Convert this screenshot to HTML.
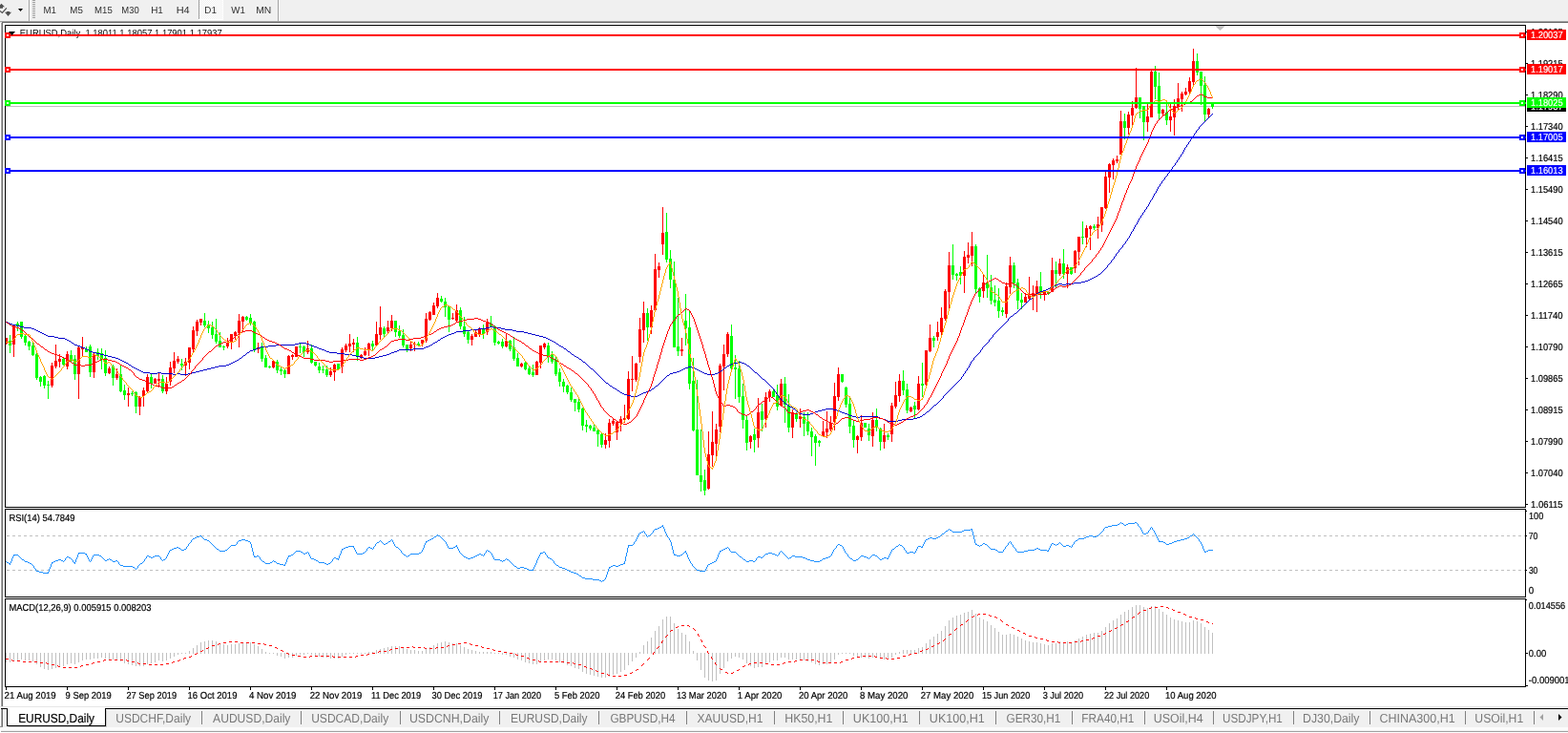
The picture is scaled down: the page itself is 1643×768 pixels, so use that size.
<!DOCTYPE html>
<html lang="en">
<head>
<meta charset="utf-8">
<title>EURUSD,Daily</title>
<style>
html,body{margin:0;padding:0;background:#fff;overflow:hidden}
body{width:1643px;height:768px;font-family:"Liberation Sans", sans-serif}
svg{display:block;position:absolute;left:0;top:0}
text{font-family:"Liberation Sans", sans-serif;white-space:pre}
</style>
</head>
<body>
<svg width="1643" height="768" viewBox="0 0 1643 768" text-rendering="geometricPrecision">
<rect x="0" y="0" width="1643" height="768" fill="#fff"/>
<rect x="0" y="0" width="1643" height="22" fill="#f0f0f0"/>
<rect x="0" y="22" width="1643" height="1" fill="#a0a0a0"/>
<rect x="2" y="23" width="1643" height="1" fill="#696969"/>
<rect x="0" y="23" width="2" height="1" fill="#e3e3e3"/>
<rect x="0" y="24" width="1" height="737" fill="#fff"/>
<rect x="1" y="24" width="1" height="717" fill="#a8a8a8"/>
<rect x="2" y="24" width="1" height="717" fill="#6e6e6e"/>
<g fill="#505050"><path d="M1.5 3.7 L5 7.2 L3 7.2 L3 8.7 L0 8.7 L0 5.2 Z"/><path d="M5 12.8 L12 12.8 L8.5 17 Z"/><path d="M7 12 h3 v1 h-3 z"/></g><path d="M0 11.6 L2.4 13.4 L6.9 8.4" fill="none" stroke="#505050" stroke-width="1.2"/>
<path d="M19 9 h5 l-2.5 3 z" fill="#000"/>
<rect x="30" y="0" width="1" height="22" fill="#a0a0a0"/>
<rect x="31" y="0" width="1" height="22" fill="#fff"/>
<rect x="34" y="0" width="3" height="1" fill="#a0a0a0"/>
<rect x="34" y="2" width="3" height="1" fill="#a0a0a0"/>
<rect x="34" y="4" width="3" height="1" fill="#a0a0a0"/>
<rect x="34" y="6" width="3" height="1" fill="#a0a0a0"/>
<rect x="34" y="8" width="3" height="1" fill="#a0a0a0"/>
<rect x="34" y="10" width="3" height="1" fill="#a0a0a0"/>
<rect x="34" y="12" width="3" height="1" fill="#a0a0a0"/>
<rect x="34" y="14" width="3" height="1" fill="#a0a0a0"/>
<rect x="34" y="16" width="3" height="1" fill="#a0a0a0"/>
<rect x="34" y="18" width="3" height="1" fill="#a0a0a0"/>
<defs><pattern id="dz" width="2" height="2" patternUnits="userSpaceOnUse"><rect width="2" height="2" fill="#f0f0f0"/><rect width="1" height="1" fill="#fff"/><rect x="1" y="1" width="1" height="1" fill="#fff"/></pattern></defs>
<rect x="208" y="0" width="1" height="20" fill="#a0a0a0"/>
<rect x="209" y="0" width="24" height="20" fill="url(#dz)" shape-rendering="crispEdges"/>
<rect x="208" y="20" width="26" height="1" fill="#fff"/>
<rect x="233" y="0" width="1" height="20" fill="#fff"/>
<rect x="291" y="0" width="1" height="22" fill="#a0a0a0"/>
<rect x="292" y="0" width="1" height="22" fill="#fff"/>
<text x="45.40" y="14" font-size="10.18" fill="#303030" textLength="13.47" lengthAdjust="spacingAndGlyphs">M1</text>
<text x="73.30" y="14" font-size="10.18" fill="#303030" textLength="13.51" lengthAdjust="spacingAndGlyphs">M5</text>
<text x="99.11" y="14" font-size="10.18" fill="#303030" textLength="18.69" lengthAdjust="spacingAndGlyphs">M15</text>
<text x="127.32" y="14" font-size="10.18" fill="#303030" textLength="18.45" lengthAdjust="spacingAndGlyphs">M30</text>
<text x="158.19" y="14" font-size="10.18" fill="#303030" textLength="12.70" lengthAdjust="spacingAndGlyphs">H1</text>
<text x="184.70" y="14" font-size="10.18" fill="#303030" textLength="14.02" lengthAdjust="spacingAndGlyphs">H4</text>
<text x="214.29" y="14" font-size="10.18" fill="#303030" textLength="12.59" lengthAdjust="spacingAndGlyphs">D1</text>
<text x="242.36" y="14" font-size="10.18" fill="#303030" textLength="14.52" lengthAdjust="spacingAndGlyphs">W1</text>
<text x="268.15" y="14" font-size="10.18" fill="#303030" textLength="16.09" lengthAdjust="spacingAndGlyphs">MN</text>
<rect x="5.5" y="26.5" width="1593" height="505" fill="#fff" stroke="#000" stroke-width="1" shape-rendering="crispEdges"/>
<rect x="5.5" y="533.5" width="1593" height="92" fill="#fff" stroke="#000" stroke-width="1" shape-rendering="crispEdges"/>
<rect x="5.5" y="627.5" width="1593" height="92" fill="#fff" stroke="#000" stroke-width="1" shape-rendering="crispEdges"/>
<rect x="1599" y="33" width="2" height="1" fill="#000"/>
<text x="1603.99" y="37" font-size="10.18" fill="#000" stroke="#000" stroke-width="0.2" textLength="33.60" lengthAdjust="spacingAndGlyphs">1.20165</text>
<rect x="1599" y="66" width="2" height="1" fill="#000"/>
<text x="1603.99" y="70" font-size="10.18" fill="#000" stroke="#000" stroke-width="0.2" textLength="33.60" lengthAdjust="spacingAndGlyphs">1.19215</text>
<rect x="1599" y="99" width="2" height="1" fill="#000"/>
<text x="1603.99" y="103" font-size="10.18" fill="#000" stroke="#000" stroke-width="0.2" textLength="33.57" lengthAdjust="spacingAndGlyphs">1.18290</text>
<rect x="1599" y="132" width="2" height="1" fill="#000"/>
<text x="1603.99" y="136" font-size="10.18" fill="#000" stroke="#000" stroke-width="0.2" textLength="33.57" lengthAdjust="spacingAndGlyphs">1.17340</text>
<rect x="1599" y="165" width="2" height="1" fill="#000"/>
<text x="1603.99" y="169" font-size="10.18" fill="#000" stroke="#000" stroke-width="0.2" textLength="33.60" lengthAdjust="spacingAndGlyphs">1.16415</text>
<rect x="1599" y="198" width="2" height="1" fill="#000"/>
<text x="1603.99" y="202" font-size="10.18" fill="#000" stroke="#000" stroke-width="0.2" textLength="33.57" lengthAdjust="spacingAndGlyphs">1.15490</text>
<rect x="1599" y="231" width="2" height="1" fill="#000"/>
<text x="1603.99" y="235" font-size="10.18" fill="#000" stroke="#000" stroke-width="0.2" textLength="33.57" lengthAdjust="spacingAndGlyphs">1.14540</text>
<rect x="1599" y="264" width="2" height="1" fill="#000"/>
<text x="1603.99" y="268" font-size="10.18" fill="#000" stroke="#000" stroke-width="0.2" textLength="33.60" lengthAdjust="spacingAndGlyphs">1.13615</text>
<rect x="1599" y="297" width="2" height="1" fill="#000"/>
<text x="1603.99" y="301" font-size="10.18" fill="#000" stroke="#000" stroke-width="0.2" textLength="33.60" lengthAdjust="spacingAndGlyphs">1.12665</text>
<rect x="1599" y="330" width="2" height="1" fill="#000"/>
<text x="1603.99" y="334" font-size="10.18" fill="#000" stroke="#000" stroke-width="0.2" textLength="33.57" lengthAdjust="spacingAndGlyphs">1.11740</text>
<rect x="1599" y="363" width="2" height="1" fill="#000"/>
<text x="1603.99" y="367" font-size="10.18" fill="#000" stroke="#000" stroke-width="0.2" textLength="33.57" lengthAdjust="spacingAndGlyphs">1.10790</text>
<rect x="1599" y="396" width="2" height="1" fill="#000"/>
<text x="1603.99" y="400" font-size="10.18" fill="#000" stroke="#000" stroke-width="0.2" textLength="33.60" lengthAdjust="spacingAndGlyphs">1.09865</text>
<rect x="1599" y="429" width="2" height="1" fill="#000"/>
<text x="1603.99" y="433" font-size="10.18" fill="#000" stroke="#000" stroke-width="0.2" textLength="33.60" lengthAdjust="spacingAndGlyphs">1.08915</text>
<rect x="1599" y="462" width="2" height="1" fill="#000"/>
<text x="1603.99" y="466" font-size="10.18" fill="#000" stroke="#000" stroke-width="0.2" textLength="33.57" lengthAdjust="spacingAndGlyphs">1.07990</text>
<rect x="1599" y="495" width="2" height="1" fill="#000"/>
<text x="1603.99" y="499" font-size="10.18" fill="#000" stroke="#000" stroke-width="0.2" textLength="33.57" lengthAdjust="spacingAndGlyphs">1.07040</text>
<rect x="1599" y="528" width="2" height="1" fill="#000"/>
<text x="1603.99" y="532" font-size="10.18" fill="#000" stroke="#000" stroke-width="0.2" textLength="33.60" lengthAdjust="spacingAndGlyphs">1.06115</text>
<text x="1602.00" y="544" font-size="10.18" fill="#000" stroke="#000" stroke-width="0.2" textLength="15.25" lengthAdjust="spacingAndGlyphs">100</text>
<text x="1601.76" y="565" font-size="10.18" fill="#000" stroke="#000" stroke-width="0.2" textLength="9.58" lengthAdjust="spacingAndGlyphs">70</text>
<text x="1601.88" y="601" font-size="10.18" fill="#000" stroke="#000" stroke-width="0.2" textLength="9.46" lengthAdjust="spacingAndGlyphs">30</text>
<text x="1601.82" y="622" font-size="10.18" fill="#000" stroke="#000" stroke-width="0.2" textLength="5.47" lengthAdjust="spacingAndGlyphs">0</text>
<rect x="1599" y="535" width="1" height="1" fill="#000"/>
<path d="M7 561.5 H1598" stroke="#c0c0c0" stroke-width="1" stroke-dasharray="3 3" shape-rendering="crispEdges"/>
<rect x="1599" y="561" width="1" height="1" fill="#000"/>
<path d="M7 597.5 H1598" stroke="#c0c0c0" stroke-width="1" stroke-dasharray="3 3" shape-rendering="crispEdges"/>
<rect x="1599" y="597" width="1" height="1" fill="#000"/>
<text x="1601.84" y="638" font-size="10.18" fill="#000" stroke="#000" stroke-width="0.2" textLength="38.36" lengthAdjust="spacingAndGlyphs">0.014556</text>
<text x="1601.83" y="688" font-size="10.18" fill="#000" stroke="#000" stroke-width="0.2" textLength="18.44" lengthAdjust="spacingAndGlyphs">0.00</text>
<text x="1601.78" y="716" font-size="10.18" fill="#000" stroke="#000" stroke-width="0.2" textLength="42.89" lengthAdjust="spacingAndGlyphs">-0.009001</text>
<rect x="1599" y="684" width="2" height="1" fill="#000"/>
<rect x="1599" y="718" width="2" height="1" fill="#000"/>
<rect x="1599" y="628" width="1" height="1" fill="#000"/>
<rect x="6" y="720" width="1" height="3" fill="#000"/>
<text x="4.62" y="732" font-size="10.18" fill="#000" stroke="#000" stroke-width="0.2" textLength="54.13" lengthAdjust="spacingAndGlyphs">21 Aug 2019</text>
<rect x="70" y="720" width="1" height="3" fill="#000"/>
<text x="68.56" y="732" font-size="10.18" fill="#000" stroke="#000" stroke-width="0.2" textLength="48.19" lengthAdjust="spacingAndGlyphs">9 Sep 2019</text>
<rect x="134" y="720" width="1" height="3" fill="#000"/>
<text x="132.43" y="732" font-size="10.18" fill="#000" stroke="#000" stroke-width="0.2" textLength="52.81" lengthAdjust="spacingAndGlyphs">27 Sep 2019</text>
<rect x="198" y="720" width="1" height="3" fill="#000"/>
<text x="196.57" y="732" font-size="10.18" fill="#000" stroke="#000" stroke-width="0.2" textLength="51.88" lengthAdjust="spacingAndGlyphs">16 Oct 2019</text>
<rect x="262" y="720" width="1" height="3" fill="#000"/>
<text x="260.98" y="732" font-size="10.18" fill="#000" stroke="#000" stroke-width="0.2" textLength="49.48" lengthAdjust="spacingAndGlyphs">4 Nov 2019</text>
<rect x="326" y="720" width="1" height="3" fill="#000"/>
<text x="324.72" y="732" font-size="10.18" fill="#000" stroke="#000" stroke-width="0.2" textLength="54.54" lengthAdjust="spacingAndGlyphs">22 Nov 2019</text>
<rect x="390" y="720" width="1" height="3" fill="#000"/>
<text x="389.10" y="732" font-size="10.18" fill="#000" stroke="#000" stroke-width="0.2" textLength="52.03" lengthAdjust="spacingAndGlyphs">11 Dec 2019</text>
<rect x="454" y="720" width="1" height="3" fill="#000"/>
<text x="452.54" y="732" font-size="10.18" fill="#000" stroke="#000" stroke-width="0.2" textLength="53.00" lengthAdjust="spacingAndGlyphs">30 Dec 2019</text>
<rect x="518" y="720" width="1" height="3" fill="#000"/>
<text x="516.70" y="732" font-size="10.18" fill="#000" stroke="#000" stroke-width="0.2" textLength="50.35" lengthAdjust="spacingAndGlyphs">17 Jan 2020</text>
<rect x="582" y="720" width="1" height="3" fill="#000"/>
<text x="580.92" y="732" font-size="10.18" fill="#000" stroke="#000" stroke-width="0.2" textLength="47.44" lengthAdjust="spacingAndGlyphs">5 Feb 2020</text>
<rect x="646" y="720" width="1" height="3" fill="#000"/>
<text x="644.73" y="732" font-size="10.18" fill="#000" stroke="#000" stroke-width="0.2" textLength="52.43" lengthAdjust="spacingAndGlyphs">24 Feb 2020</text>
<rect x="710" y="720" width="1" height="3" fill="#000"/>
<text x="708.89" y="732" font-size="10.18" fill="#000" stroke="#000" stroke-width="0.2" textLength="52.48" lengthAdjust="spacingAndGlyphs">13 Mar 2020</text>
<rect x="774" y="720" width="1" height="3" fill="#000"/>
<text x="772.77" y="732" font-size="10.18" fill="#000" stroke="#000" stroke-width="0.2" textLength="46.60" lengthAdjust="spacingAndGlyphs">1 Apr 2020</text>
<rect x="838" y="720" width="1" height="3" fill="#000"/>
<text x="836.93" y="732" font-size="10.18" fill="#000" stroke="#000" stroke-width="0.2" textLength="51.44" lengthAdjust="spacingAndGlyphs">20 Apr 2020</text>
<rect x="902" y="720" width="1" height="3" fill="#000"/>
<text x="900.88" y="732" font-size="10.18" fill="#000" stroke="#000" stroke-width="0.2" textLength="50.60" lengthAdjust="spacingAndGlyphs">8 May 2020</text>
<rect x="966" y="720" width="1" height="3" fill="#000"/>
<text x="964.72" y="732" font-size="10.18" fill="#000" stroke="#000" stroke-width="0.2" textLength="55.56" lengthAdjust="spacingAndGlyphs">27 May 2020</text>
<rect x="1030" y="720" width="1" height="3" fill="#000"/>
<text x="1028.90" y="732" font-size="10.18" fill="#000" stroke="#000" stroke-width="0.2" textLength="50.35" lengthAdjust="spacingAndGlyphs">15 Jun 2020</text>
<rect x="1094" y="720" width="1" height="3" fill="#000"/>
<text x="1092.65" y="732" font-size="10.18" fill="#000" stroke="#000" stroke-width="0.2" textLength="42.61" lengthAdjust="spacingAndGlyphs">3 Jul 2020</text>
<rect x="1158" y="720" width="1" height="3" fill="#000"/>
<text x="1156.94" y="732" font-size="10.18" fill="#000" stroke="#000" stroke-width="0.2" textLength="47.32" lengthAdjust="spacingAndGlyphs">22 Jul 2020</text>
<rect x="1222" y="720" width="1" height="3" fill="#000"/>
<text x="1221.08" y="732" font-size="10.18" fill="#000" stroke="#000" stroke-width="0.2" textLength="53.38" lengthAdjust="spacingAndGlyphs">10 Aug 2020</text>
<rect x="6" y="111" width="1592" height="1" fill="#c0c0c0"/>
<path fill="#ff0000" shape-rendering="crispEdges" d="M6 354h1v7h-1zM6 354h2v6h-2zM14 340h1v34h-1zM13 340h3v21h-3zM54 380h1v26h-1zM53 383h3v21h-3zM58 361h1v25h-1zM57 378h3v6h-3zM62 371h1v14h-1zM61 376h3v3h-3zM70 368h1v19h-1zM69 371h3v13h-3zM82 363h1v55h-1zM81 364h3v28h-3zM86 353h1v20h-1zM85 364h3v2h-3zM98 370h1v26h-1zM97 371h3v19h-3zM114 384h1v8h-1zM113 386h3v5h-3zM122 386h1v12h-1zM121 392h3v4h-3zM134 406h1v20h-1zM133 412h3v2h-3zM146 415h1v20h-1zM145 416h3v10h-3zM150 406h1v20h-1zM149 409h3v6h-3zM154 392h1v19h-1zM153 395h3v15h-3zM162 396h1v6h-1zM161 397h3v5h-3zM166 391h1v15h-1zM165 397h3v2h-3zM174 395h1v18h-1zM173 402h3v8h-3zM178 379h1v25h-1zM177 385h3v15h-3zM182 369h1v22h-1zM181 378h3v8h-3zM186 373h1v8h-1zM185 376h3v3h-3zM194 375h1v19h-1zM193 379h3v4h-3zM198 364h1v23h-1zM197 364h3v16h-3zM202 342h1v27h-1zM201 346h3v20h-3zM206 335h1v17h-1zM205 337h3v10h-3zM210 334h1v7h-1zM209 334h3v4h-3zM238 354h1v11h-1zM237 359h3v4h-3zM242 350h1v16h-1zM241 350h3v8h-3zM246 347h1v9h-1zM245 348h3v4h-3zM250 329h1v35h-1zM249 336h3v13h-3zM254 331h1v17h-1zM253 332h3v5h-3zM270 359h1v11h-1zM269 364h3v2h-3zM286 377h1v9h-1zM285 378h3v7h-3zM302 372h1v20h-1zM301 373h3v19h-3zM306 371h1v6h-1zM305 372h3v2h-3zM310 363h1v11h-1zM309 363h3v11h-3zM322 357h1v14h-1zM321 365h3v4h-3zM346 385h1v10h-1zM345 389h3v4h-3zM350 381h1v18h-1zM349 382h3v8h-3zM358 364h1v27h-1zM357 366h3v18h-3zM362 360h1v9h-1zM361 362h3v5h-3zM366 350h1v19h-1zM365 360h3v3h-3zM370 355h1v14h-1zM369 359h3v2h-3zM378 371h1v5h-1zM377 372h3v3h-3zM382 364h1v9h-1zM381 368h3v4h-3zM386 359h1v14h-1zM385 360h3v6h-3zM394 337h1v26h-1zM393 350h3v12h-3zM398 321h1v35h-1zM397 343h3v8h-3zM406 336h1v13h-1zM405 343h3v4h-3zM410 330h1v17h-1zM409 336h3v8h-3zM430 358h1v10h-1zM429 361h3v4h-3zM434 358h1v10h-1zM433 360h3v1h-3zM442 356h1v7h-1zM441 356h3v4h-3zM446 328h1v31h-1zM445 334h3v23h-3zM450 326h1v10h-1zM449 327h3v8h-3zM454 317h1v13h-1zM453 320h3v10h-3zM458 307h1v16h-1zM457 312h3v9h-3zM474 328h1v7h-1zM473 333h3v1h-3zM478 319h1v18h-1zM477 325h3v11h-3zM494 350h1v12h-1zM493 352h3v4h-3zM498 346h1v7h-1zM497 348h3v5h-3zM502 343h1v10h-1zM501 345h3v6h-3zM510 334h1v17h-1zM509 337h3v11h-3zM530 350h1v14h-1zM529 357h3v6h-3zM546 380h1v5h-1zM545 381h3v3h-3zM562 378h1v15h-1zM561 379h3v14h-3zM566 362h1v24h-1zM565 362h3v18h-3zM570 359h1v7h-1zM569 360h3v4h-3zM634 454h1v16h-1zM633 461h3v5h-3zM638 439h1v30h-1zM637 443h3v19h-3zM642 438h1v8h-1zM641 441h3v3h-3zM646 441h1v20h-1zM645 442h3v11h-3zM650 436h1v16h-1zM649 439h3v4h-3zM654 424h1v19h-1zM653 438h3v2h-3zM658 389h1v51h-1zM657 397h3v42h-3zM662 373h1v37h-1zM661 397h3v1h-3zM666 380h1v20h-1zM665 381h3v17h-3zM670 333h1v47h-1zM669 345h3v29h-3zM674 316h1v43h-1zM673 328h3v18h-3zM682 320h1v30h-1zM681 325h3v18h-3zM686 266h1v60h-1zM685 282h3v43h-3zM690 275h1v16h-1zM689 279h3v4h-3zM694 217h1v50h-1zM693 244h3v12h-3zM714 354h1v19h-1zM713 366h3v2h-3zM742 452h1v61h-1zM741 476h3v36h-3zM746 431h1v58h-1zM745 463h3v14h-3zM750 444h1v34h-1zM749 450h3v15h-3zM754 381h1v72h-1zM753 383h3v64h-3zM758 361h1v48h-1zM757 371h3v13h-3zM762 348h1v26h-1zM761 350h3v21h-3zM786 456h1v14h-1zM785 457h3v6h-3zM794 417h1v52h-1zM793 432h3v27h-3zM802 411h1v37h-1zM801 416h3v23h-3zM806 408h1v13h-1zM805 410h3v6h-3zM818 397h1v29h-1zM817 402h3v23h-3zM830 429h1v30h-1zM829 432h3v16h-3zM838 428h1v20h-1zM837 436h3v3h-3zM862 441h1v16h-1zM861 452h3v5h-3zM866 431h1v28h-1zM865 449h3v4h-3zM870 436h1v16h-1zM869 443h3v7h-3zM874 401h1v50h-1zM873 415h3v27h-3zM878 385h1v35h-1zM877 392h3v24h-3zM898 456h1v19h-1zM897 457h3v4h-3zM902 435h1v27h-1zM901 443h3v15h-3zM914 432h1v36h-1zM913 440h3v17h-3zM926 444h1v26h-1zM925 456h3v7h-3zM934 422h1v41h-1zM933 425h3v30h-3zM938 400h1v28h-1zM937 414h3v12h-3zM942 392h1v29h-1zM941 399h3v16h-3zM954 426h1v6h-1zM953 427h3v4h-3zM962 394h1v36h-1zM961 402h3v27h-3zM970 367h1v37h-1zM969 367h3v36h-3zM974 340h1v29h-1zM973 354h3v14h-3zM982 337h1v20h-1zM981 348h3v5h-3zM986 322h1v29h-1zM985 333h3v15h-3zM990 303h1v33h-1zM989 305h3v29h-3zM994 264h1v59h-1zM993 278h3v28h-3zM1010 263h1v44h-1zM1009 269h3v20h-3zM1014 254h1v22h-1zM1013 267h3v3h-3zM1018 243h1v36h-1zM1017 258h3v10h-3zM1030 287h1v25h-1zM1029 296h3v9h-3zM1054 296h1v37h-1zM1053 300h3v29h-3zM1058 269h1v39h-1zM1057 278h3v23h-3zM1074 307h1v10h-1zM1073 311h3v6h-3zM1078 290h1v24h-1zM1077 308h3v5h-3zM1082 299h1v26h-1zM1081 307h3v3h-3zM1086 294h1v33h-1zM1085 300h3v8h-3zM1094 306h1v9h-1zM1093 306h3v3h-3zM1102 270h1v36h-1zM1101 283h3v23h-3zM1110 271h1v18h-1zM1109 276h3v11h-3zM1118 277h1v25h-1zM1117 280h3v7h-3zM1126 262h1v24h-1zM1125 263h3v18h-3zM1130 248h1v30h-1zM1129 248h3v16h-3zM1138 236h1v23h-1zM1137 239h3v10h-3zM1142 236h1v26h-1zM1141 237h3v3h-3zM1150 227h1v23h-1zM1149 235h3v4h-3zM1154 217h1v26h-1zM1153 217h3v19h-3zM1158 180h1v39h-1zM1157 185h3v33h-3zM1162 171h1v31h-1zM1161 172h3v14h-3zM1166 166h1v22h-1zM1165 168h3v5h-3zM1170 163h1v8h-1zM1169 167h3v2h-3zM1174 116h1v46h-1zM1173 127h3v35h-3zM1182 117h1v24h-1zM1181 120h3v14h-3zM1186 106h1v25h-1zM1185 113h3v8h-3zM1190 71h1v43h-1zM1189 102h3v11h-3zM1202 109h1v29h-1zM1201 122h3v6h-3zM1206 74h1v49h-1zM1205 75h3v48h-3zM1218 114h1v7h-1zM1217 115h3v4h-3zM1226 109h1v29h-1zM1225 122h3v4h-3zM1230 104h1v38h-1zM1229 111h3v12h-3zM1234 87h1v28h-1zM1233 103h3v9h-3zM1238 96h1v21h-1zM1237 98h3v6h-3zM1242 92h1v8h-1zM1241 96h3v3h-3zM1246 81h1v17h-1zM1245 85h3v11h-3zM1250 51h1v38h-1zM1249 64h3v22h-3zM1266 113h1v10h-1zM1265 114h3v6h-3z"/>
<path fill="#00ff00" shape-rendering="crispEdges" d="M10 351h1v19h-1zM9 357h3v5h-3zM18 337h1v10h-1zM17 339h3v2h-3zM22 337h1v18h-1zM21 337h3v16h-3zM26 351h1v11h-1zM25 352h3v7h-3zM30 357h1v10h-1zM29 358h3v5h-3zM34 358h1v15h-1zM33 362h3v10h-3zM38 370h1v28h-1zM37 371h3v25h-3zM42 394h1v11h-1zM41 395h3v5h-3zM46 393h1v14h-1zM45 394h3v10h-3zM50 399h1v19h-1zM49 403h3v1h-3zM66 375h1v8h-1zM65 376h3v6h-3zM74 367h1v12h-1zM73 372h3v5h-3zM78 372h1v26h-1zM77 376h3v16h-3zM90 363h1v6h-1zM89 366h3v3h-3zM94 361h1v34h-1zM93 363h3v27h-3zM102 365h1v12h-1zM101 369h3v4h-3zM106 365h1v22h-1zM105 370h3v7h-3zM110 367h1v27h-1zM109 375h3v16h-3zM118 382h1v22h-1zM117 384h3v12h-3zM126 383h1v28h-1zM125 392h3v18h-3zM130 403h1v16h-1zM129 409h3v5h-3zM138 410h1v5h-1zM137 412h3v1h-3zM142 410h1v23h-1zM141 411h3v15h-3zM158 392h1v15h-1zM157 395h3v7h-3zM170 393h1v19h-1zM169 397h3v13h-3zM190 376h1v12h-1zM189 381h3v2h-3zM214 328h1v15h-1zM213 336h3v5h-3zM218 336h1v13h-1zM217 340h3v4h-3zM222 337h1v18h-1zM221 343h3v8h-3zM226 334h1v26h-1zM225 350h3v8h-3zM230 348h1v16h-1zM229 357h3v7h-3zM234 362h1v5h-1zM233 363h3v1h-3zM258 331h1v5h-1zM257 332h3v3h-3zM262 329h1v12h-1zM261 333h3v5h-3zM266 336h1v33h-1zM265 337h3v29h-3zM274 359h1v20h-1zM273 364h3v12h-3zM278 372h1v13h-1zM277 375h3v10h-3zM282 383h1v3h-1zM281 384h3v1h-3zM290 377h1v14h-1zM289 379h3v9h-3zM294 385h1v8h-1zM293 387h3v2h-3zM298 387h1v9h-1zM297 388h3v4h-3zM314 360h1v10h-1zM313 363h3v1h-3zM318 362h1v12h-1zM317 363h3v6h-3zM326 361h1v20h-1zM325 365h3v15h-3zM330 379h1v5h-1zM329 379h3v4h-3zM334 380h1v11h-1zM333 384h3v4h-3zM338 383h1v8h-1zM337 387h3v1h-3zM342 383h1v12h-1zM341 387h3v6h-3zM354 381h1v6h-1zM353 381h3v6h-3zM374 353h1v25h-1zM373 359h3v14h-3zM390 357h1v10h-1zM389 360h3v3h-3zM402 342h1v11h-1zM401 344h3v6h-3zM414 336h1v17h-1zM413 336h3v12h-3zM418 341h1v13h-1zM417 347h3v5h-3zM422 345h1v19h-1zM421 351h3v11h-3zM426 361h1v8h-1zM425 361h3v6h-3zM438 358h1v5h-1zM437 360h3v2h-3zM462 310h1v7h-1zM461 313h3v3h-3zM466 312h1v20h-1zM465 316h3v6h-3zM470 321h1v27h-1zM469 321h3v14h-3zM482 322h1v23h-1zM481 325h3v17h-3zM486 332h1v21h-1zM485 342h3v8h-3zM490 347h1v13h-1zM489 348h3v8h-3zM506 340h1v15h-1zM505 344h3v6h-3zM514 331h1v12h-1zM513 339h3v4h-3zM518 341h1v21h-1zM517 342h3v17h-3zM522 357h1v4h-1zM521 358h3v2h-3zM526 355h1v10h-1zM525 358h3v5h-3zM534 356h1v12h-1zM533 357h3v9h-3zM538 353h1v25h-1zM537 364h3v12h-3zM542 370h1v14h-1zM541 375h3v9h-3zM550 378h1v10h-1zM549 380h3v7h-3zM554 383h1v10h-1zM553 386h3v6h-3zM558 382h1v13h-1zM557 390h3v3h-3zM574 359h1v21h-1zM573 362h3v12h-3zM578 368h1v13h-1zM577 371h3v8h-3zM582 374h1v20h-1zM581 377h3v15h-3zM586 386h1v19h-1zM585 390h3v10h-3zM590 397h1v14h-1zM589 400h3v5h-3zM594 403h1v10h-1zM593 404h3v7h-3zM598 406h1v15h-1zM597 411h3v8h-3zM602 418h1v13h-1zM601 418h3v4h-3zM606 418h1v14h-1zM605 421h3v8h-3zM610 427h1v24h-1zM609 428h3v18h-3zM614 440h1v13h-1zM613 445h3v2h-3zM618 445h1v6h-1zM617 446h3v3h-3zM622 445h1v7h-1zM621 448h3v4h-3zM626 450h1v18h-1zM625 451h3v4h-3zM630 454h1v15h-1zM629 455h3v11h-3zM678 323h1v34h-1zM677 328h3v15h-3zM698 223h1v52h-1zM697 243h3v29h-3zM702 262h1v40h-1zM701 271h3v22h-3zM706 274h1v90h-1zM705 293h3v71h-3zM710 312h1v61h-1zM709 363h3v5h-3zM718 308h1v54h-1zM717 336h3v8h-3zM722 326h1v82h-1zM721 343h3v59h-3zM726 375h1v77h-1zM725 399h3v52h-3zM730 398h1v100h-1zM729 450h3v48h-3zM734 450h1v65h-1zM733 498h3v7h-3zM738 492h1v27h-1zM737 503h3v11h-3zM766 340h1v47h-1zM765 352h3v34h-3zM770 372h1v46h-1zM769 385h3v2h-3zM774 378h1v44h-1zM773 386h3v30h-3zM778 402h1v47h-1zM777 415h3v25h-3zM782 436h1v36h-1zM781 440h3v24h-3zM790 449h1v25h-1zM789 455h3v6h-3zM798 423h1v29h-1zM797 431h3v9h-3zM810 408h1v8h-1zM809 410h3v6h-3zM814 403h1v27h-1zM813 414h3v12h-3zM822 395h1v48h-1zM821 402h3v22h-3zM826 413h1v40h-1zM825 425h3v23h-3zM834 432h1v10h-1zM833 433h3v6h-3zM842 432h1v25h-1zM841 437h3v7h-3zM846 432h1v24h-1zM845 442h3v10h-3zM850 448h1v30h-1zM849 452h3v6h-3zM854 455h1v33h-1zM853 457h3v7h-3zM858 461h1v7h-1zM857 462h3v2h-3zM882 392h1v9h-1zM881 392h3v8h-3zM886 405h1v22h-1zM885 406h3v18h-3zM890 417h1v37h-1zM889 423h3v24h-3zM894 441h1v28h-1zM893 446h3v15h-3zM906 443h1v5h-1zM905 443h3v5h-3zM910 444h1v18h-1zM909 449h3v7h-3zM918 428h1v24h-1zM917 440h3v7h-3zM922 448h1v24h-1zM921 449h3v14h-3zM930 454h1v7h-1zM929 456h3v2h-3zM946 388h1v26h-1zM945 399h3v10h-3zM950 402h1v31h-1zM949 408h3v22h-3zM958 421h1v17h-1zM957 425h3v4h-3zM966 380h1v36h-1zM965 402h3v2h-3zM978 352h1v12h-1zM977 354h3v3h-3zM998 256h1v37h-1zM997 278h3v10h-3zM1002 286h1v8h-1zM1001 287h3v2h-3zM1006 279h1v19h-1zM1005 285h3v4h-3zM1022 256h1v51h-1zM1021 258h3v45h-3zM1026 301h1v16h-1zM1025 302h3v9h-3zM1034 267h1v45h-1zM1033 296h3v6h-3zM1038 288h1v31h-1zM1037 301h3v14h-3zM1042 299h1v22h-1zM1041 314h3v3h-3zM1046 302h1v31h-1zM1045 315h3v11h-3zM1050 322h1v9h-1zM1049 325h3v2h-3zM1062 275h1v27h-1zM1061 278h3v19h-3zM1066 292h1v32h-1zM1065 296h3v19h-3zM1070 307h1v17h-1zM1069 314h3v3h-3zM1090 285h1v28h-1zM1089 300h3v6h-3zM1098 305h1v4h-1zM1097 306h3v2h-3zM1106 274h1v27h-1zM1105 283h3v4h-3zM1114 261h1v31h-1zM1113 276h3v11h-3zM1122 280h1v8h-1zM1121 280h3v7h-3zM1134 232h1v24h-1zM1133 248h3v1h-3zM1146 235h1v6h-1zM1145 237h3v2h-3zM1178 119h1v27h-1zM1177 127h3v7h-3zM1194 102h1v22h-1zM1193 102h3v12h-3zM1198 111h1v36h-1zM1197 111h3v17h-3zM1210 69h1v35h-1zM1209 75h3v16h-3zM1214 76h1v49h-1zM1213 90h3v29h-3zM1222 109h1v22h-1zM1221 118h3v8h-3zM1254 56h1v23h-1zM1253 64h3v12h-3zM1258 75h1v35h-1zM1257 75h3v15h-3zM1262 80h1v47h-1zM1261 89h3v31h-3zM1270 109h1v5h-1zM1269 109h3v3h-3z"/>
<path fill="#1e90ff" shape-rendering="crispEdges" d="M6 588h1v1h-1zM7 589h2v1h-2zM9 590h1v1h-1zM10 590h1v2h-1zM11 588h1v2h-1zM12 585h1v3h-1zM13 583h1v2h-1zM14 581h1v2h-1zM15 581h4v1h-4zM19 582h1v1h-1zM20 583h1v1h-1zM21 584h1v1h-1zM22 585h1v1h-1zM23 586h2v1h-2zM25 587h1v1h-1zM26 588h3v1h-3zM29 589h2v1h-2zM31 590h2v1h-2zM33 591h1v1h-1zM34 592h1v1h-1zM35 593h1v2h-1zM36 595h1v1h-1zM37 596h1v2h-1zM38 598h3v1h-3zM41 599h4v1h-4zM45 600h5v1h-5zM50 599h1v2h-1zM51 596h1v3h-1zM52 594h1v2h-1zM53 591h1v3h-1zM54 589h1v2h-1zM55 589h1v1h-1zM56 588h2v1h-2zM58 587h3v1h-3zM61 586h3v1h-3zM64 587h2v1h-2zM66 588h1v1h-1zM67 587h1v1h-1zM68 585h1v2h-1zM69 584h1v1h-1zM70 583h2v1h-2zM72 584h2v1h-2zM74 585h1v1h-1zM75 586h1v1h-1zM76 587h1v2h-1zM77 589h1v1h-1zM78 589h1v2h-1zM79 586h1v3h-1zM80 584h1v2h-1zM81 581h1v3h-1zM82 579h1v2h-1zM83 579h6v1h-6zM89 580h1v1h-1zM90 580h1v2h-1zM91 582h1v2h-1zM92 584h1v2h-1zM93 586h1v2h-1zM94 588h1v1h-1zM95 586h1v2h-1zM96 584h1v2h-1zM97 582h1v2h-1zM98 581h6v1h-6zM104 582h2v1h-2zM106 583h1v1h-1zM107 584h1v1h-1zM108 585h1v1h-1zM109 586h1v1h-1zM110 587h2v1h-2zM112 586h2v1h-2zM114 585h1v1h-1zM115 586h2v1h-2zM117 587h1v1h-1zM118 588h3v1h-3zM121 587h2v1h-2zM123 588h1v1h-1zM124 589h1v2h-1zM125 591h1v1h-1zM126 592h3v1h-3zM129 593h10v1h-10zM139 594h2v1h-2zM141 595h1v1h-1zM142 596h1v1h-1zM143 595h1v1h-1zM144 593h1v2h-1zM145 592h1v1h-1zM146 591h1v1h-1zM147 590h2v1h-2zM149 589h1v1h-1zM150 588h1v1h-1zM151 586h1v2h-1zM152 585h1v1h-1zM153 583h1v2h-1zM154 582h2v1h-2zM156 583h2v1h-2zM158 584h2v1h-2zM160 583h2v1h-2zM162 582h5v1h-5zM167 583h1v1h-1zM168 584h1v2h-1zM169 586h1v1h-1zM170 587h1v1h-1zM171 586h2v1h-2zM173 585h1v1h-1zM174 583h1v2h-1zM175 581h1v2h-1zM176 579h1v2h-1zM177 577h1v2h-1zM178 576h2v1h-2zM180 575h2v1h-2zM182 574h3v1h-3zM185 573h2v1h-2zM187 574h2v1h-2zM189 575h1v1h-1zM190 576h3v1h-3zM193 575h2v1h-2zM195 573h1v2h-1zM196 572h1v1h-1zM197 570h1v2h-1zM198 569h1v1h-1zM199 568h1v1h-1zM200 566h1v2h-1zM201 565h1v1h-1zM202 564h2v1h-2zM204 563h2v1h-2zM206 562h3v1h-3zM209 561h2v1h-2zM211 562h1v1h-1zM212 563h1v1h-1zM213 564h1v1h-1zM214 565h3v1h-3zM217 566h2v1h-2zM219 567h1v1h-1zM220 568h1v1h-1zM221 569h1v1h-1zM222 570h1v1h-1zM223 571h1v1h-1zM224 572h1v1h-1zM225 573h1v1h-1zM226 574h1v1h-1zM227 575h2v1h-2zM229 576h1v1h-1zM230 577h6v1h-6zM236 576h2v1h-2zM238 575h1v1h-1zM239 574h1v1h-1zM240 573h1v1h-1zM241 572h1v1h-1zM242 571h5v1h-5zM247 570h1v1h-1zM248 568h1v2h-1zM249 567h1v1h-1zM250 566h3v1h-3zM253 565h4v1h-4zM257 566h3v1h-3zM260 567h2v1h-2zM262 568h1v2h-1zM263 570h1v4h-1zM264 574h1v4h-1zM265 578h1v4h-1zM266 582h1v2h-1zM267 583h2v1h-2zM269 582h2v1h-2zM271 583h1v1h-1zM272 584h1v2h-1zM273 586h1v1h-1zM274 587h1v1h-1zM275 588h2v1h-2zM277 589h1v1h-1zM278 590h5v1h-5zM283 589h2v1h-2zM285 588h1v1h-1zM286 587h1v1h-1zM287 588h2v1h-2zM289 589h1v1h-1zM290 590h3v1h-3zM293 591h4v1h-4zM297 592h1v1h-1zM298 591h1v2h-1zM299 589h1v2h-1zM300 586h1v3h-1zM301 584h1v2h-1zM302 582h1v2h-1zM303 582h2v1h-2zM305 581h2v1h-2zM307 580h1v1h-1zM308 579h1v1h-1zM309 578h1v1h-1zM310 577h5v1h-5zM315 578h2v1h-2zM317 579h1v1h-1zM318 580h2v1h-2zM320 579h2v1h-2zM322 578h1v1h-1zM323 579h1v2h-1zM324 581h1v2h-1zM325 583h1v2h-1zM326 585h3v1h-3zM329 586h2v1h-2zM331 587h2v1h-2zM333 588h1v1h-1zM334 589h6v1h-6zM340 590h2v1h-2zM342 591h2v1h-2zM344 590h2v1h-2zM346 589h1v1h-1zM347 588h1v1h-1zM348 586h1v2h-1zM349 585h1v1h-1zM350 584h2v1h-2zM352 585h2v1h-2zM354 585h1v2h-1zM355 582h1v3h-1zM356 580h1v2h-1zM357 577h1v3h-1zM358 575h1v2h-1zM359 575h1v1h-1zM360 574h2v1h-2zM362 573h3v1h-3zM365 572h5v1h-5zM370 572h1v2h-1zM371 574h1v2h-1zM372 576h1v2h-1zM373 578h1v2h-1zM374 580h6v1h-6zM380 579h2v1h-2zM382 578h1v1h-1zM383 577h1v1h-1zM384 575h1v2h-1zM385 574h1v1h-1zM386 573h2v1h-2zM388 574h2v1h-2zM390 575h1v1h-1zM391 573h1v2h-1zM392 572h1v1h-1zM393 570h1v2h-1zM394 569h1v1h-1zM395 568h2v1h-2zM397 567h1v1h-1zM398 566h1v1h-1zM399 567h1v1h-1zM400 568h1v1h-1zM401 569h1v1h-1zM402 570h2v1h-2zM404 569h2v1h-2zM406 568h1v1h-1zM407 567h2v1h-2zM409 566h1v1h-1zM410 565h1v1h-1zM411 566h1v2h-1zM412 568h1v2h-1zM413 570h1v2h-1zM414 572h1v1h-1zM415 573h2v1h-2zM417 574h1v1h-1zM418 575h1v1h-1zM419 576h1v1h-1zM420 577h1v2h-1zM421 579h1v1h-1zM422 580h1v1h-1zM423 581h2v1h-2zM425 582h1v1h-1zM426 583h1v1h-1zM427 582h2v1h-2zM429 581h1v1h-1zM430 580h9v1h-9zM439 579h2v1h-2zM441 578h1v1h-1zM442 576h1v2h-1zM443 574h1v2h-1zM444 571h1v3h-1zM445 569h1v2h-1zM446 567h1v2h-1zM447 567h1v1h-1zM448 566h2v1h-2zM450 565h2v1h-2zM452 564h2v1h-2zM454 563h1v1h-1zM455 562h2v1h-2zM457 561h1v1h-1zM458 560h1v1h-1zM459 561h2v1h-2zM461 562h1v1h-1zM462 563h1v1h-1zM463 564h1v1h-1zM464 565h1v1h-1zM465 566h1v1h-1zM466 567h1v1h-1zM467 568h1v2h-1zM468 570h1v2h-1zM469 572h1v2h-1zM470 574h5v1h-5zM475 573h2v1h-2zM477 572h1v1h-1zM478 571h1v2h-1zM479 573h1v2h-1zM480 575h1v2h-1zM481 577h1v2h-1zM482 579h1v1h-1zM483 580h1v1h-1zM484 581h1v1h-1zM485 582h1v1h-1zM486 583h2v1h-2zM488 584h2v1h-2zM490 585h3v1h-3zM493 584h3v1h-3zM496 583h2v1h-2zM498 582h2v1h-2zM500 581h2v1h-2zM502 580h2v1h-2zM504 581h2v1h-2zM506 582h1v1h-1zM507 580h1v2h-1zM508 579h1v1h-1zM509 577h1v2h-1zM510 576h1v1h-1zM511 577h2v1h-2zM513 578h1v1h-1zM514 579h1v1h-1zM515 580h1v2h-1zM516 582h1v2h-1zM517 584h1v2h-1zM518 586h6v1h-6zM524 587h2v1h-2zM526 588h1v1h-1zM527 587h2v1h-2zM529 586h1v1h-1zM530 585h1v1h-1zM531 586h2v1h-2zM533 587h1v1h-1zM534 588h1v1h-1zM535 589h1v1h-1zM536 590h1v1h-1zM537 591h1v1h-1zM538 592h1v1h-1zM539 593h2v1h-2zM541 594h1v1h-1zM542 595h3v1h-3zM545 594h4v1h-4zM549 595h3v1h-3zM552 596h2v1h-2zM554 597h4v1h-4zM558 596h1v2h-1zM559 594h1v2h-1zM560 592h1v2h-1zM561 590h1v2h-1zM562 587h1v3h-1zM563 585h1v2h-1zM564 583h1v2h-1zM565 581h1v2h-1zM566 579h1v2h-1zM567 579h2v1h-2zM569 578h2v1h-2zM571 579h1v2h-1zM572 581h1v1h-1zM573 582h1v2h-1zM574 584h2v1h-2zM576 585h2v1h-2zM578 586h1v1h-1zM579 587h1v1h-1zM580 588h1v2h-1zM581 590h1v1h-1zM582 591h1v1h-1zM583 592h2v1h-2zM585 593h1v1h-1zM586 594h3v1h-3zM589 595h3v1h-3zM592 596h2v1h-2zM594 597h2v1h-2zM596 598h2v1h-2zM598 599h3v1h-3zM601 600h3v1h-3zM604 601h2v1h-2zM606 602h1v1h-1zM607 603h2v1h-2zM609 604h1v1h-1zM610 605h3v1h-3zM613 606h8v1h-8zM621 607h7v1h-7zM628 608h2v1h-2zM630 609h1v1h-1zM631 608h2v1h-2zM633 607h1v1h-1zM634 605h1v2h-1zM635 602h1v3h-1zM636 599h1v3h-1zM637 596h1v3h-1zM638 594h1v2h-1zM639 594h1v1h-1zM640 593h2v1h-2zM642 592h3v1h-3zM645 593h3v1h-3zM648 592h2v1h-2zM650 591h3v1h-3zM653 590h1v1h-1zM654 588h1v3h-1zM655 583h1v5h-1zM656 579h1v4h-1zM657 574h1v5h-1zM658 571h1v3h-1zM659 571h4v1h-4zM663 570h1v1h-1zM664 568h1v2h-1zM665 567h1v1h-1zM666 565h1v2h-1zM667 563h1v2h-1zM668 561h1v2h-1zM669 559h1v2h-1zM670 558h2v1h-2zM672 557h2v1h-2zM674 556h1v1h-1zM675 557h1v2h-1zM676 559h1v1h-1zM677 560h1v2h-1zM678 562h1v1h-1zM679 561h2v1h-2zM681 560h1v1h-1zM682 559h1v1h-1zM683 558h1v1h-1zM684 556h1v2h-1zM685 555h1v1h-1zM686 554h3v1h-3zM689 553h2v1h-2zM691 552h2v1h-2zM693 551h1v1h-1zM694 550h1v2h-1zM695 552h1v2h-1zM696 554h1v3h-1zM697 557h1v2h-1zM698 559h1v2h-1zM699 561h1v2h-1zM700 563h1v1h-1zM701 564h1v2h-1zM702 566h1v2h-1zM703 568h1v4h-1zM704 572h1v4h-1zM705 576h1v4h-1zM706 580h1v2h-1zM707 581h2v1h-2zM709 582h4v1h-4zM713 581h2v1h-2zM715 580h1v1h-1zM716 579h1v1h-1zM717 578h1v1h-1zM718 577h1v2h-1zM719 579h1v2h-1zM720 581h1v3h-1zM721 584h1v2h-1zM722 586h1v2h-1zM723 588h1v2h-1zM724 590h1v1h-1zM725 591h1v2h-1zM726 593h1v1h-1zM727 594h1v1h-1zM728 595h1v1h-1zM729 596h1v1h-1zM730 597h3v1h-3zM733 598h6v1h-6zM739 596h1v2h-1zM740 594h1v2h-1zM741 592h1v2h-1zM742 591h2v1h-2zM744 590h2v1h-2zM746 589h2v1h-2zM748 588h2v1h-2zM750 586h1v2h-1zM751 584h1v2h-1zM752 581h1v3h-1zM753 579h1v2h-1zM754 577h1v2h-1zM755 577h1v1h-1zM756 576h2v1h-2zM758 575h2v1h-2zM760 574h2v1h-2zM762 573h1v1h-1zM763 574h1v1h-1zM764 575h1v2h-1zM765 577h1v1h-1zM766 578h5v1h-5zM771 579h1v1h-1zM772 580h1v1h-1zM773 581h1v1h-1zM774 582h1v1h-1zM775 583h2v1h-2zM777 584h1v1h-1zM778 585h1v1h-1zM779 586h2v1h-2zM781 587h1v1h-1zM782 588h3v1h-3zM785 587h4v1h-4zM789 588h2v1h-2zM791 587h1v1h-1zM792 585h1v2h-1zM793 584h1v1h-1zM794 583h3v1h-3zM797 584h2v1h-2zM799 583h1v1h-1zM800 582h1v1h-1zM801 581h1v1h-1zM802 580h3v1h-3zM805 579h4v1h-4zM809 580h3v1h-3zM812 581h2v1h-2zM814 582h1v1h-1zM815 581h1v1h-1zM816 579h1v2h-1zM817 578h1v1h-1zM818 577h1v1h-1zM819 578h1v1h-1zM820 579h1v1h-1zM821 580h1v1h-1zM822 581h1v1h-1zM823 582h1v1h-1zM824 583h1v1h-1zM825 584h1v1h-1zM826 585h1v1h-1zM827 584h2v1h-2zM829 583h1v1h-1zM830 582h3v1h-3zM833 583h8v1h-8zM841 584h3v1h-3zM844 585h2v1h-2zM846 586h3v1h-3zM849 587h4v1h-4zM853 588h6v1h-6zM859 587h2v1h-2zM861 586h1v1h-1zM862 585h3v1h-3zM865 584h3v1h-3zM868 583h2v1h-2zM870 582h1v1h-1zM871 580h1v2h-1zM872 578h1v2h-1zM873 576h1v2h-1zM874 575h1v1h-1zM875 574h1v1h-1zM876 572h1v2h-1zM877 571h1v1h-1zM878 570h2v1h-2zM880 571h2v1h-2zM882 572h1v1h-1zM883 573h1v2h-1zM884 575h1v2h-1zM885 577h1v2h-1zM886 579h1v1h-1zM887 580h1v1h-1zM888 581h1v2h-1zM889 583h1v1h-1zM890 584h1v1h-1zM891 585h2v1h-2zM893 586h1v1h-1zM894 587h3v1h-3zM897 586h2v1h-2zM899 585h1v1h-1zM900 584h1v1h-1zM901 583h1v1h-1zM902 582h3v1h-3zM905 583h3v1h-3zM908 584h2v1h-2zM910 585h1v1h-1zM911 584h1v1h-1zM912 583h1v1h-1zM913 582h1v1h-1zM914 581h3v1h-3zM917 582h2v1h-2zM919 583h1v1h-1zM920 584h1v1h-1zM921 585h1v1h-1zM922 586h2v1h-2zM924 585h2v1h-2zM926 584h3v1h-3zM929 585h1v1h-1zM930 584h1v2h-1zM931 582h1v2h-1zM932 580h1v2h-1zM933 578h1v2h-1zM934 576h1v2h-1zM935 575h2v1h-2zM937 574h1v1h-1zM938 573h1v1h-1zM939 572h2v1h-2zM941 571h1v1h-1zM942 570h1v1h-1zM943 571h2v1h-2zM945 572h1v1h-1zM946 573h1v1h-1zM947 574h1v2h-1zM948 576h1v1h-1zM949 577h1v2h-1zM950 579h3v1h-3zM953 578h4v1h-4zM957 579h2v1h-2zM959 577h1v2h-1zM960 575h1v2h-1zM961 573h1v2h-1zM962 572h3v1h-3zM965 573h1v1h-1zM966 572h1v2h-1zM967 570h1v2h-1zM968 568h1v2h-1zM969 566h1v2h-1zM970 565h2v1h-2zM972 564h2v1h-2zM974 563h3v1h-3zM977 564h4v1h-4zM981 563h2v1h-2zM983 562h2v1h-2zM985 561h1v1h-1zM986 560h1v1h-1zM987 559h2v1h-2zM989 558h1v1h-1zM990 557h1v1h-1zM991 556h2v1h-2zM993 555h1v1h-1zM994 554h1v1h-1zM995 555h2v1h-2zM997 556h1v1h-1zM998 557h10v1h-10zM1008 556h2v1h-2zM1010 555h7v1h-7zM1017 554h1v1h-1zM1018 554h1v3h-1zM1019 557h1v4h-1zM1020 561h1v4h-1zM1021 565h1v4h-1zM1022 569h1v2h-1zM1023 570h1v1h-1zM1024 571h2v1h-2zM1026 572h1v1h-1zM1027 571h2v1h-2zM1029 570h1v1h-1zM1030 569h2v1h-2zM1032 570h2v1h-2zM1034 571h1v1h-1zM1035 572h1v1h-1zM1036 573h1v1h-1zM1037 574h1v1h-1zM1038 575h5v1h-5zM1043 576h2v1h-2zM1045 577h1v1h-1zM1046 578h5v1h-5zM1051 576h1v2h-1zM1052 575h1v1h-1zM1053 573h1v2h-1zM1054 572h1v1h-1zM1055 571h1v1h-1zM1056 569h1v2h-1zM1057 568h1v1h-1zM1058 567h1v1h-1zM1059 568h1v2h-1zM1060 570h1v1h-1zM1061 571h1v2h-1zM1062 573h1v1h-1zM1063 574h1v1h-1zM1064 575h1v2h-1zM1065 577h1v1h-1zM1066 578h7v1h-7zM1073 577h4v1h-4zM1077 576h7v1h-7zM1084 575h2v1h-2zM1086 574h2v1h-2zM1088 575h2v1h-2zM1090 576h7v1h-7zM1097 577h1v1h-1zM1098 576h1v2h-1zM1099 574h1v2h-1zM1100 572h1v2h-1zM1101 570h1v2h-1zM1102 569h2v1h-2zM1104 570h2v1h-2zM1106 571h1v1h-1zM1107 570h2v1h-2zM1109 569h1v1h-1zM1110 568h1v1h-1zM1111 569h1v1h-1zM1112 570h1v1h-1zM1113 571h1v1h-1zM1114 572h3v1h-3zM1117 571h3v1h-3zM1120 572h2v1h-2zM1122 573h1v1h-1zM1123 571h1v2h-1zM1124 570h1v1h-1zM1125 568h1v2h-1zM1126 567h1v1h-1zM1127 566h2v1h-2zM1129 565h1v1h-1zM1130 564h6v1h-6zM1136 563h2v1h-2zM1138 562h3v1h-3zM1141 561h4v1h-4zM1145 562h4v1h-4zM1149 561h2v1h-2zM1151 560h1v1h-1zM1152 559h1v1h-1zM1153 558h1v1h-1zM1154 557h1v1h-1zM1155 556h1v1h-1zM1156 554h1v2h-1zM1157 553h1v1h-1zM1158 552h3v1h-3zM1161 551h4v1h-4zM1165 550h6v1h-6zM1171 549h2v1h-2zM1173 548h1v1h-1zM1174 547h1v1h-1zM1175 548h2v1h-2zM1177 549h1v1h-1zM1178 550h2v1h-2zM1180 549h2v1h-2zM1182 548h7v1h-7zM1189 547h2v1h-2zM1191 548h1v1h-1zM1192 549h1v2h-1zM1193 551h1v1h-1zM1194 552h1v1h-1zM1195 553h1v2h-1zM1196 555h1v2h-1zM1197 557h1v2h-1zM1198 559h3v1h-3zM1201 558h2v1h-2zM1203 556h1v2h-1zM1204 555h1v1h-1zM1205 553h1v2h-1zM1206 552h1v1h-1zM1207 553h1v2h-1zM1208 555h1v1h-1zM1209 556h1v2h-1zM1210 558h1v2h-1zM1211 560h1v2h-1zM1212 562h1v2h-1zM1213 564h1v2h-1zM1214 566h1v2h-1zM1215 567h4v1h-4zM1219 568h2v1h-2zM1221 569h1v1h-1zM1222 570h3v1h-3zM1225 569h3v1h-3zM1228 568h2v1h-2zM1230 567h3v1h-3zM1233 566h4v1h-4zM1237 565h4v1h-4zM1241 564h3v1h-3zM1244 563h2v1h-2zM1246 562h1v1h-1zM1247 561h2v1h-2zM1249 560h1v1h-1zM1250 559h1v1h-1zM1251 560h1v1h-1zM1252 561h1v1h-1zM1253 562h1v1h-1zM1254 563h1v1h-1zM1255 564h1v1h-1zM1256 565h1v2h-1zM1257 567h1v1h-1zM1258 568h1v2h-1zM1259 570h1v2h-1zM1260 572h1v3h-1zM1261 575h1v2h-1zM1262 577h1v2h-1zM1263 578h1v1h-1zM1264 577h2v1h-2zM1266 576h5v1h-5z"/>
<path fill="#c0c0c0" shape-rendering="crispEdges" d="M6 684h1v10h-1zM10 684h1v10h-1zM14 684h1v9h-1zM18 684h1v8h-1zM22 684h1v7h-1zM26 684h1v8h-1zM30 684h1v8h-1zM34 684h1v9h-1zM38 684h1v12h-1zM42 684h1v15h-1zM46 684h1v17h-1zM50 684h1v18h-1zM54 684h1v17h-1zM58 684h1v16h-1zM62 684h1v15h-1zM66 684h1v14h-1zM70 684h1v12h-1zM74 684h1v11h-1zM78 684h1v12h-1zM82 684h1v10h-1zM86 684h1v8h-1zM90 684h1v7h-1zM94 684h1v7h-1zM98 684h1v6h-1zM102 684h1v6h-1zM106 684h1v5h-1zM110 684h1v6h-1zM114 684h1v7h-1zM118 684h1v7h-1zM122 684h1v8h-1zM126 684h1v9h-1zM130 684h1v11h-1zM134 684h1v12h-1zM138 684h1v13h-1zM142 684h1v14h-1zM146 684h1v14h-1zM150 684h1v14h-1zM154 684h1v12h-1zM158 684h1v11h-1zM162 684h1v10h-1zM166 684h1v8h-1zM170 684h1v9h-1zM174 684h1v8h-1zM178 684h1v6h-1zM182 684h1v4h-1zM186 684h1v2h-1zM190 684h1v1h-1zM194 684h1v1h-1zM198 682h1v3h-1zM202 679h1v6h-1zM206 676h1v9h-1zM210 673h1v12h-1zM214 672h1v13h-1zM218 671h1v14h-1zM222 671h1v14h-1zM226 672h1v13h-1zM230 674h1v11h-1zM234 675h1v10h-1zM238 676h1v9h-1zM242 675h1v10h-1zM246 675h1v10h-1zM250 674h1v11h-1zM254 673h1v12h-1zM258 673h1v12h-1zM262 673h1v12h-1zM266 675h1v10h-1zM270 677h1v8h-1zM274 680h1v5h-1zM278 683h1v2h-1zM282 684h1v1h-1zM286 684h1v1h-1zM290 684h1v3h-1zM294 684h1v4h-1zM298 684h1v6h-1zM302 684h1v5h-1zM306 684h1v5h-1zM310 684h1v3h-1zM314 684h1v2h-1zM318 684h1v2h-1zM322 684h1v1h-1zM326 684h1v2h-1zM330 684h1v3h-1zM334 684h1v4h-1zM338 684h1v5h-1zM342 684h1v5h-1zM346 684h1v6h-1zM350 684h1v6h-1zM354 684h1v6h-1zM358 684h1v4h-1zM362 684h1v2h-1zM366 684h1v1h-1zM370 684h1v1h-1zM374 684h1v1h-1zM378 684h1v1h-1zM382 684h1v1h-1zM386 683h1v2h-1zM390 683h1v2h-1zM394 681h1v4h-1zM398 680h1v5h-1zM402 679h1v6h-1zM406 678h1v7h-1zM410 677h1v8h-1zM414 677h1v8h-1zM418 677h1v8h-1zM422 678h1v7h-1zM426 680h1v5h-1zM430 681h1v4h-1zM434 681h1v4h-1zM438 682h1v3h-1zM442 682h1v3h-1zM446 680h1v5h-1zM450 678h1v7h-1zM454 676h1v9h-1zM458 674h1v11h-1zM462 673h1v12h-1zM466 672h1v13h-1zM470 673h1v12h-1zM474 674h1v11h-1zM478 674h1v11h-1zM482 676h1v9h-1zM486 678h1v7h-1zM490 680h1v5h-1zM494 681h1v4h-1zM498 682h1v3h-1zM502 683h1v2h-1zM506 683h1v2h-1zM510 683h1v2h-1zM514 683h1v2h-1zM518 684h1v1h-1zM522 684h1v1h-1zM526 684h1v2h-1zM530 684h1v2h-1zM534 684h1v4h-1zM538 684h1v5h-1zM542 684h1v7h-1zM546 684h1v8h-1zM550 684h1v10h-1zM554 684h1v11h-1zM558 684h1v12h-1zM562 684h1v12h-1zM566 684h1v10h-1zM570 684h1v8h-1zM574 684h1v7h-1zM578 684h1v7h-1zM582 684h1v8h-1zM586 684h1v10h-1zM590 684h1v11h-1zM594 684h1v13h-1zM598 684h1v14h-1zM602 684h1v16h-1zM606 684h1v17h-1zM610 684h1v20h-1zM614 684h1v22h-1zM618 684h1v23h-1zM622 684h1v24h-1zM626 684h1v25h-1zM630 684h1v26h-1zM634 684h1v26h-1zM638 684h1v25h-1zM642 684h1v23h-1zM646 684h1v22h-1zM650 684h1v20h-1zM654 684h1v18h-1zM658 684h1v13h-1zM662 684h1v9h-1zM666 684h1v5h-1zM670 683h1v2h-1zM674 676h1v9h-1zM678 672h1v13h-1zM682 668h1v17h-1zM686 661h1v24h-1zM690 656h1v29h-1zM694 649h1v36h-1zM698 646h1v39h-1zM702 646h1v39h-1zM706 653h1v32h-1zM710 659h1v26h-1zM714 663h1v22h-1zM718 665h1v20h-1zM722 672h1v13h-1zM726 682h1v3h-1zM730 684h1v8h-1zM734 684h1v18h-1zM738 684h1v26h-1zM742 684h1v29h-1zM746 684h1v30h-1zM750 684h1v29h-1zM754 684h1v22h-1zM758 684h1v16h-1zM762 684h1v9h-1zM766 684h1v6h-1zM770 684h1v4h-1zM774 684h1v5h-1zM778 684h1v7h-1zM782 684h1v11h-1zM786 684h1v14h-1zM790 684h1v16h-1zM794 684h1v15h-1zM798 684h1v15h-1zM802 684h1v12h-1zM806 684h1v10h-1zM810 684h1v8h-1zM814 684h1v8h-1zM818 684h1v5h-1zM822 684h1v5h-1zM826 684h1v7h-1zM830 684h1v7h-1zM834 684h1v7h-1zM838 684h1v7h-1zM842 684h1v8h-1zM846 684h1v9h-1zM850 684h1v10h-1zM854 684h1v12h-1zM858 684h1v13h-1zM862 684h1v12h-1zM866 684h1v12h-1zM870 684h1v11h-1zM874 684h1v7h-1zM878 684h1v2h-1zM882 684h1v1h-1zM886 684h1v1h-1zM890 684h1v1h-1zM894 684h1v3h-1zM898 684h1v5h-1zM902 684h1v5h-1zM906 684h1v5h-1zM910 684h1v6h-1zM914 684h1v5h-1zM918 684h1v5h-1zM922 684h1v6h-1zM926 684h1v7h-1zM930 684h1v7h-1zM934 684h1v5h-1zM938 684h1v2h-1zM942 683h1v2h-1zM946 681h1v4h-1zM950 681h1v4h-1zM954 681h1v4h-1zM958 681h1v4h-1zM962 679h1v6h-1zM966 678h1v7h-1zM970 674h1v11h-1zM974 670h1v15h-1zM978 667h1v18h-1zM982 664h1v21h-1zM986 661h1v24h-1zM990 656h1v29h-1zM994 650h1v35h-1zM998 647h1v38h-1zM1002 645h1v40h-1zM1006 644h1v41h-1zM1010 642h1v43h-1zM1014 641h1v44h-1zM1018 639h1v46h-1zM1022 643h1v42h-1zM1026 647h1v38h-1zM1030 649h1v36h-1zM1034 651h1v34h-1zM1038 655h1v30h-1zM1042 658h1v27h-1zM1046 662h1v23h-1zM1050 665h1v20h-1zM1054 665h1v20h-1zM1058 664h1v21h-1zM1062 665h1v20h-1zM1066 667h1v18h-1zM1070 669h1v16h-1zM1074 671h1v14h-1zM1078 672h1v13h-1zM1082 673h1v12h-1zM1086 673h1v12h-1zM1090 674h1v11h-1zM1094 675h1v10h-1zM1098 676h1v9h-1zM1102 674h1v11h-1zM1106 674h1v11h-1zM1110 672h1v13h-1zM1114 673h1v12h-1zM1118 672h1v13h-1zM1122 673h1v12h-1zM1126 671h1v14h-1zM1130 669h1v16h-1zM1134 667h1v18h-1zM1138 665h1v20h-1zM1142 664h1v21h-1zM1146 663h1v22h-1zM1150 663h1v22h-1zM1154 661h1v24h-1zM1158 657h1v28h-1zM1162 653h1v32h-1zM1166 650h1v35h-1zM1170 648h1v37h-1zM1174 644h1v41h-1zM1178 641h1v44h-1zM1182 639h1v46h-1zM1186 636h1v49h-1zM1190 634h1v51h-1zM1194 634h1v51h-1zM1198 636h1v49h-1zM1202 637h1v48h-1zM1206 635h1v50h-1zM1210 635h1v50h-1zM1214 638h1v47h-1zM1218 641h1v44h-1zM1222 644h1v41h-1zM1226 647h1v38h-1zM1230 649h1v36h-1zM1234 650h1v35h-1zM1238 651h1v34h-1zM1242 652h1v33h-1zM1246 652h1v33h-1zM1250 650h1v35h-1zM1254 651h1v34h-1zM1258 653h1v32h-1zM1262 657h1v28h-1zM1266 660h1v25h-1zM1270 663h1v22h-1z"/>
<path fill="#ff0000" shape-rendering="crispEdges" d="M6 690h3v1h-3zM12 691h1v1h-1zM13 692h2v1h-2zM18 692h3v1h-3zM24 693h3v1h-3zM30 693h3v1h-3zM36 693h3v1h-3zM42 694h3v1h-3zM48 694h1v1h-1zM49 695h2v1h-2zM54 696h3v1h-3zM60 697h1v1h-1zM61 698h2v1h-2zM66 699h3v1h-3zM72 699h3v1h-3zM78 699h3v1h-3zM84 698h1v1h-1zM85 697h2v1h-2zM90 696h3v1h-3zM96 695h1v1h-1zM97 694h2v1h-2zM102 693h3v1h-3zM108 692h1v1h-1zM109 691h2v1h-2zM114 691h3v1h-3zM120 691h3v1h-3zM126 691h3v1h-3zM132 691h1v1h-1zM133 692h2v1h-2zM138 693h3v1h-3zM144 694h1v1h-1zM145 695h2v1h-2zM150 695h3v1h-3zM156 696h3v1h-3zM162 696h3v1h-3zM168 696h3v1h-3zM174 695h3v1h-3zM180 694h1v1h-1zM181 693h2v1h-2zM186 692h2v1h-2zM188 691h1v1h-1zM192 690h1v1h-1zM193 689h2v1h-2zM198 688h2v1h-2zM200 687h1v1h-1zM204 685h2v1h-2zM206 684h1v1h-1zM210 682h2v1h-2zM212 681h1v1h-1zM216 679h2v1h-2zM218 678h1v1h-1zM222 676h3v1h-3zM228 675h1v1h-1zM229 674h2v1h-2zM234 673h3v1h-3zM240 672h3v1h-3zM246 672h3v1h-3zM252 673h3v1h-3zM258 673h3v1h-3zM264 673h3v1h-3zM270 674h3v1h-3zM276 674h1v1h-1zM277 675h2v1h-2zM282 676h3v1h-3zM288 678h2v1h-2zM290 679h1v1h-1zM294 681h2v1h-2zM296 682h1v1h-1zM300 684h2v1h-2zM302 685h1v1h-1zM306 686h3v1h-3zM312 687h3v1h-3zM318 688h3v1h-3zM324 688h1v1h-1zM325 687h2v1h-2zM330 687h3v1h-3zM336 687h3v1h-3zM342 687h3v1h-3zM348 687h1v1h-1zM349 688h2v1h-2zM354 688h3v1h-3zM360 688h3v1h-3zM366 688h3v1h-3zM372 688h1v1h-1zM373 687h2v1h-2zM378 686h3v1h-3zM384 686h1v1h-1zM385 685h2v1h-2zM390 684h3v1h-3zM396 683h1v1h-1zM397 682h2v1h-2zM402 682h3v1h-3zM408 681h1v1h-1zM409 680h2v1h-2zM414 679h3v1h-3zM420 678h3v1h-3zM426 678h3v1h-3zM432 677h1v1h-1zM433 678h2v1h-2zM438 678h3v1h-3zM444 678h1v1h-1zM445 679h2v1h-2zM450 679h3v1h-3zM456 679h1v1h-1zM457 678h2v1h-2zM462 678h3v1h-3zM468 677h1v1h-1zM469 676h2v1h-2zM474 675h3v1h-3zM480 674h3v1h-3zM486 673h3v1h-3zM492 674h1v1h-1zM493 675h2v1h-2zM498 676h3v1h-3zM504 677h1v1h-1zM505 678h2v1h-2zM510 679h3v1h-3zM516 680h1v1h-1zM517 681h2v1h-2zM522 682h3v1h-3zM528 683h3v1h-3zM534 684h3v1h-3zM540 685h1v1h-1zM541 686h2v1h-2zM546 687h3v1h-3zM552 689h2v1h-2zM554 690h1v1h-1zM558 691h3v1h-3zM564 692h1v1h-1zM565 693h2v1h-2zM570 693h3v1h-3zM576 693h3v1h-3zM582 693h3v1h-3zM588 693h3v1h-3zM594 694h3v1h-3zM600 694h1v1h-1zM601 695h2v1h-2zM606 696h3v1h-3zM612 698h2v1h-2zM614 699h1v1h-1zM618 700h2v1h-2zM620 701h1v1h-1zM624 702h1v1h-1zM625 703h2v1h-2zM630 705h3v1h-3zM636 706h1v1h-1zM637 707h2v1h-2zM642 708h3v1h-3zM648 708h3v1h-3zM654 707h3v1h-3zM660 705h2v1h-2zM662 704h1v1h-1zM666 702h1v1h-1zM667 701h2v1h-2zM672 697h1v1h-1zM673 696h1v1h-1zM674 695h1v1h-1zM678 691h1v1h-1zM679 690h1v1h-1zM680 689h1v1h-1zM684 684h1v2h-1zM685 683h1v1h-1zM688 679h1v1h-1zM689 678h1v1h-1zM690 677h1v1h-1zM693 672h1v2h-1zM694 671h1v1h-1zM697 667h1v1h-1zM698 666h1v1h-1zM699 665h1v1h-1zM702 661h1v1h-1zM703 660h2v1h-2zM708 657h2v1h-2zM710 656h1v1h-1zM714 655h3v1h-3zM720 655h2v1h-2zM722 656h1v1h-1zM726 658h1v1h-1zM727 659h1v1h-1zM728 660h1v1h-1zM731 664h1v2h-1zM732 666h1v1h-1zM734 670h1v1h-1zM735 671h1v2h-1zM737 676h1v1h-1zM738 677h1v1h-1zM739 678h1v1h-1zM741 682h1v2h-1zM742 684h1v1h-1zM745 688h1v2h-1zM746 690h1v1h-1zM749 694h1v2h-1zM750 696h1v1h-1zM754 700h1v1h-1zM755 701h2v1h-2zM760 704h2v1h-2zM762 705h1v1h-1zM766 705h2v1h-2zM768 704h1v1h-1zM772 702h2v1h-2zM774 701h1v1h-1zM778 698h2v1h-2zM780 697h1v1h-1zM784 696h1v1h-1zM785 695h2v1h-2zM790 694h3v1h-3zM796 694h3v1h-3zM802 695h3v1h-3zM808 696h3v1h-3zM814 696h3v1h-3zM820 695h1v1h-1zM821 694h2v1h-2zM826 693h3v1h-3zM832 693h1v1h-1zM833 692h2v1h-2zM838 691h3v1h-3zM844 691h3v1h-3zM850 691h3v1h-3zM856 692h1v1h-1zM857 693h2v1h-2zM862 694h3v1h-3zM868 694h3v1h-3zM874 694h3v1h-3zM880 694h1v1h-1zM881 693h2v1h-2zM886 691h3v1h-3zM892 690h1v1h-1zM893 689h2v1h-2zM898 688h3v1h-3zM904 687h3v1h-3zM910 687h3v1h-3zM916 687h1v1h-1zM917 688h2v1h-2zM922 689h3v1h-3zM928 689h1v1h-1zM929 690h2v1h-2zM934 690h3v1h-3zM940 689h3v1h-3zM946 687h3v1h-3zM952 686h1v1h-1zM953 685h2v1h-2zM958 684h3v1h-3zM964 682h2v1h-2zM966 681h1v1h-1zM970 680h2v1h-2zM972 679h1v1h-1zM976 677h2v1h-2zM978 676h1v1h-1zM982 674h2v1h-2zM984 673h1v1h-1zM988 671h1v1h-1zM989 670h1v1h-1zM990 669h1v1h-1zM994 665h1v1h-1zM995 664h2v1h-2zM1000 660h1v1h-1zM1001 659h1v1h-1zM1002 658h1v1h-1zM1006 655h1v1h-1zM1007 654h2v1h-2zM1012 651h1v1h-1zM1013 650h1v1h-1zM1014 649h1v1h-1zM1018 646h2v1h-2zM1020 645h1v1h-1zM1024 644h1v1h-1zM1025 643h2v1h-2zM1030 643h3v1h-3zM1036 644h1v1h-1zM1037 645h2v1h-2zM1042 646h2v1h-2zM1044 647h1v1h-1zM1048 649h1v1h-1zM1049 650h1v1h-1zM1050 651h1v1h-1zM1054 654h2v1h-2zM1056 655h1v1h-1zM1060 657h2v1h-2zM1062 658h1v1h-1zM1066 660h2v1h-2zM1068 661h1v1h-1zM1072 663h2v1h-2zM1074 664h1v1h-1zM1078 666h3v1h-3zM1084 667h1v1h-1zM1085 668h2v1h-2zM1090 669h3v1h-3zM1096 670h1v1h-1zM1097 671h2v1h-2zM1102 672h3v1h-3zM1108 672h1v1h-1zM1109 673h2v1h-2zM1114 673h3v1h-3zM1120 673h3v1h-3zM1126 672h3v1h-3zM1132 672h1v1h-1zM1133 671h2v1h-2zM1138 670h3v1h-3zM1144 669h1v1h-1zM1145 668h2v1h-2zM1150 666h3v1h-3zM1156 664h2v1h-2zM1158 663h1v1h-1zM1162 661h2v1h-2zM1164 660h1v1h-1zM1168 658h2v1h-2zM1170 657h1v1h-1zM1174 655h1v1h-1zM1175 654h2v1h-2zM1180 651h2v1h-2zM1182 650h1v1h-1zM1186 647h1v1h-1zM1187 646h2v1h-2zM1192 643h1v1h-1zM1193 642h1v1h-1zM1194 641h1v1h-1zM1198 639h3v1h-3zM1204 637h2v1h-2zM1206 636h1v1h-1zM1210 636h3v1h-3zM1216 635h3v1h-3zM1222 636h2v1h-2zM1224 637h1v1h-1zM1228 638h1v1h-1zM1229 639h2v1h-2zM1234 641h3v1h-3zM1240 643h2v1h-2zM1242 644h1v1h-1zM1246 646h3v1h-3zM1252 647h1v1h-1zM1253 648h2v1h-2zM1258 649h3v1h-3zM1264 651h2v1h-2zM1266 652h1v1h-1zM1270 653h1v1h-1z"/>
<path fill="#0000cd" shape-rendering="crispEdges" d="M6 337h2v1h-2zM8 338h2v1h-2zM10 339h3v1h-3zM13 340h4v1h-4zM17 341h4v1h-4zM21 342h4v1h-4zM25 343h8v1h-8zM33 344h3v1h-3zM36 345h2v1h-2zM38 346h2v1h-2zM40 347h2v1h-2zM42 348h2v1h-2zM44 349h2v1h-2zM46 350h2v1h-2zM48 351h2v1h-2zM50 352h7v1h-7zM57 353h4v1h-4zM61 354h7v1h-7zM68 355h2v1h-2zM70 356h2v1h-2zM72 357h2v1h-2zM74 358h1v1h-1zM75 359h2v1h-2zM77 360h1v1h-1zM78 361h3v1h-3zM81 362h3v1h-3zM84 363h2v1h-2zM86 364h3v1h-3zM89 365h2v1h-2zM91 366h2v1h-2zM93 367h1v1h-1zM94 368h3v1h-3zM97 369h4v1h-4zM101 370h4v1h-4zM105 371h4v1h-4zM109 372h4v1h-4zM113 373h4v1h-4zM117 374h4v1h-4zM121 375h3v1h-3zM124 376h2v1h-2zM126 377h2v1h-2zM128 378h2v1h-2zM130 379h2v1h-2zM132 380h2v1h-2zM134 381h1v1h-1zM135 382h2v1h-2zM137 383h1v1h-1zM138 384h2v1h-2zM140 385h2v1h-2zM142 386h2v1h-2zM144 387h2v1h-2zM146 388h2v1h-2zM148 389h2v1h-2zM150 390h7v1h-7zM157 391h8v1h-8zM165 390h4v1h-4zM169 391h12v1h-12zM181 392h4v1h-4zM185 391h4v1h-4zM189 392h8v1h-8zM197 391h4v1h-4zM201 390h4v1h-4zM205 389h4v1h-4zM209 388h4v1h-4zM213 387h4v1h-4zM217 386h4v1h-4zM221 385h4v1h-4zM225 384h4v1h-4zM229 383h8v1h-8zM237 382h3v1h-3zM240 381h2v1h-2zM242 380h2v1h-2zM244 379h2v1h-2zM246 378h2v1h-2zM248 377h2v1h-2zM250 376h1v1h-1zM251 375h2v1h-2zM253 374h1v1h-1zM254 373h1v1h-1zM255 372h2v1h-2zM257 371h1v1h-1zM258 370h1v1h-1zM259 369h2v1h-2zM261 368h1v1h-1zM262 367h3v1h-3zM265 366h3v1h-3zM268 365h2v1h-2zM270 364h3v1h-3zM273 363h8v1h-8zM281 362h8v1h-8zM289 361h20v1h-20zM309 360h4v1h-4zM313 359h8v1h-8zM321 360h3v1h-3zM324 361h2v1h-2zM326 362h3v1h-3zM329 363h3v1h-3zM332 364h2v1h-2zM334 365h3v1h-3zM337 366h3v1h-3zM340 367h2v1h-2zM342 368h3v1h-3zM345 369h8v1h-8zM353 370h8v1h-8zM361 371h8v1h-8zM369 372h4v1h-4zM373 373h4v1h-4zM377 374h4v1h-4zM381 375h12v1h-12zM393 374h4v1h-4zM397 373h4v1h-4zM401 372h4v1h-4zM405 371h3v1h-3zM408 370h2v1h-2zM410 369h3v1h-3zM413 368h3v1h-3zM416 367h2v1h-2zM418 366h15v1h-15zM433 365h11v1h-11zM444 364h2v1h-2zM446 363h3v1h-3zM449 362h2v1h-2zM451 361h2v1h-2zM453 360h1v1h-1zM454 359h2v1h-2zM456 358h2v1h-2zM458 357h1v1h-1zM459 356h2v1h-2zM461 355h1v1h-1zM462 354h2v1h-2zM464 353h2v1h-2zM466 352h2v1h-2zM468 351h2v1h-2zM470 350h3v1h-3zM473 349h3v1h-3zM476 348h2v1h-2zM478 347h7v1h-7zM485 346h8v1h-8zM493 345h8v1h-8zM501 344h8v1h-8zM509 343h4v1h-4zM513 342h4v1h-4zM517 343h8v1h-8zM525 344h4v1h-4zM529 345h8v1h-8zM537 346h4v1h-4zM541 347h8v1h-8zM549 348h4v1h-4zM553 349h4v1h-4zM557 350h4v1h-4zM561 351h4v1h-4zM565 352h4v1h-4zM569 353h3v1h-3zM572 354h2v1h-2zM574 355h2v1h-2zM576 356h2v1h-2zM578 357h2v1h-2zM580 358h2v1h-2zM582 359h1v1h-1zM583 360h2v1h-2zM585 361h1v1h-1zM586 362h2v1h-2zM588 363h2v1h-2zM590 364h1v1h-1zM591 365h2v1h-2zM593 366h1v1h-1zM594 367h1v1h-1zM595 368h2v1h-2zM597 369h1v1h-1zM598 370h1v1h-1zM599 371h2v1h-2zM601 372h1v1h-1zM602 373h2v1h-2zM604 374h2v1h-2zM606 375h1v1h-1zM607 376h2v1h-2zM609 377h1v1h-1zM610 378h1v1h-1zM611 379h2v1h-2zM613 380h1v1h-1zM614 381h1v1h-1zM615 382h1v1h-1zM616 383h1v1h-1zM617 384h1v1h-1zM618 385h1v1h-1zM619 386h2v1h-2zM621 387h1v1h-1zM622 388h1v1h-1zM623 389h1v1h-1zM624 390h1v1h-1zM625 391h1v1h-1zM626 392h1v1h-1zM627 393h1v1h-1zM628 394h1v1h-1zM629 395h1v1h-1zM630 396h1v1h-1zM631 397h1v1h-1zM632 398h1v1h-1zM633 399h1v1h-1zM634 400h1v1h-1zM635 401h2v1h-2zM637 402h1v1h-1zM638 403h1v1h-1zM639 404h2v1h-2zM641 405h1v1h-1zM642 406h2v1h-2zM644 407h2v1h-2zM646 408h1v1h-1zM647 409h2v1h-2zM649 410h1v1h-1zM650 411h2v1h-2zM652 412h2v1h-2zM654 413h3v1h-3zM657 414h4v1h-4zM661 415h7v1h-7zM668 414h2v1h-2zM670 413h2v1h-2zM672 412h2v1h-2zM674 411h3v1h-3zM677 410h3v1h-3zM680 409h2v1h-2zM682 408h1v1h-1zM683 407h2v1h-2zM685 406h1v1h-1zM686 405h1v1h-1zM687 404h2v1h-2zM689 403h1v1h-1zM690 402h1v1h-1zM691 401h1v1h-1zM692 400h1v1h-1zM693 399h1v1h-1zM694 398h1v1h-1zM695 397h1v1h-1zM696 396h1v1h-1zM697 395h1v1h-1zM698 394h1v1h-1zM699 393h2v1h-2zM701 392h1v1h-1zM702 391h3v1h-3zM705 390h4v1h-4zM709 389h3v1h-3zM712 388h2v1h-2zM714 387h2v1h-2zM716 386h2v1h-2zM718 385h3v1h-3zM721 384h4v1h-4zM725 385h3v1h-3zM728 386h2v1h-2zM730 387h2v1h-2zM732 388h2v1h-2zM734 389h2v1h-2zM736 390h2v1h-2zM738 391h3v1h-3zM741 392h8v1h-8zM749 391h3v1h-3zM752 390h2v1h-2zM754 389h1v1h-1zM755 388h2v1h-2zM757 387h1v1h-1zM758 386h1v1h-1zM759 385h2v1h-2zM761 384h1v1h-1zM762 383h2v1h-2zM764 382h2v1h-2zM766 381h3v1h-3zM769 380h4v1h-4zM773 379h4v1h-4zM777 380h3v1h-3zM780 381h2v1h-2zM782 382h1v1h-1zM783 383h2v1h-2zM785 384h1v1h-1zM786 385h1v1h-1zM787 386h1v1h-1zM788 387h1v1h-1zM789 388h1v1h-1zM790 389h1v1h-1zM791 390h2v1h-2zM793 391h1v1h-1zM794 392h1v1h-1zM795 393h1v1h-1zM796 394h1v1h-1zM797 395h1v1h-1zM798 396h1v1h-1zM799 397h2v1h-2zM801 398h1v1h-1zM802 399h1v1h-1zM803 400h1v1h-1zM804 401h1v1h-1zM805 402h1v1h-1zM806 403h1v1h-1zM807 404h1v1h-1zM808 405h1v1h-1zM809 406h1v1h-1zM810 407h1v1h-1zM811 408h1v2h-1zM812 410h1v1h-1zM813 411h1v2h-1zM814 413h1v1h-1zM815 414h1v1h-1zM816 415h1v2h-1zM817 417h1v1h-1zM818 418h1v1h-1zM819 419h1v1h-1zM820 420h1v1h-1zM821 421h1v1h-1zM822 422h1v1h-1zM823 423h2v1h-2zM825 424h1v1h-1zM826 425h2v1h-2zM828 426h2v1h-2zM830 427h1v1h-1zM831 428h2v1h-2zM833 429h1v1h-1zM834 430h1v1h-1zM835 431h2v1h-2zM837 432h1v1h-1zM838 433h3v1h-3zM841 434h8v1h-8zM849 433h3v1h-3zM852 432h2v1h-2zM854 431h3v1h-3zM857 430h4v1h-4zM861 429h4v1h-4zM865 428h8v1h-8zM873 429h4v1h-4zM877 430h3v1h-3zM880 431h2v1h-2zM882 432h3v1h-3zM885 433h3v1h-3zM888 434h2v1h-2zM890 435h3v1h-3zM893 436h4v1h-4zM897 437h4v1h-4zM901 436h19v1h-19zM920 437h2v1h-2zM922 438h3v1h-3zM925 439h3v1h-3zM928 440h2v1h-2zM930 441h11v1h-11zM941 440h4v1h-4zM945 439h12v1h-12zM957 438h4v1h-4zM961 437h3v1h-3zM964 436h2v1h-2zM966 435h1v1h-1zM967 434h2v1h-2zM969 433h1v1h-1zM970 432h1v1h-1zM971 431h2v1h-2zM973 430h1v1h-1zM974 429h1v1h-1zM975 428h1v1h-1zM976 427h1v1h-1zM977 426h1v1h-1zM978 425h1v1h-1zM979 424h2v1h-2zM981 423h1v1h-1zM982 422h1v1h-1zM983 421h1v1h-1zM984 420h1v1h-1zM985 419h1v1h-1zM986 418h1v1h-1zM987 417h1v1h-1zM988 415h1v2h-1zM989 414h1v1h-1zM990 413h1v1h-1zM991 412h1v1h-1zM992 411h1v1h-1zM993 410h1v1h-1zM994 409h1v1h-1zM995 408h1v1h-1zM996 407h1v1h-1zM997 406h1v1h-1zM998 405h1v1h-1zM999 404h1v1h-1zM1000 403h1v1h-1zM1001 402h1v1h-1zM1002 401h1v1h-1zM1003 400h1v1h-1zM1004 399h1v1h-1zM1005 398h1v1h-1zM1006 397h1v1h-1zM1007 395h1v2h-1zM1008 394h1v1h-1zM1009 392h1v2h-1zM1010 391h1v1h-1zM1011 389h1v2h-1zM1012 388h1v1h-1zM1013 386h1v2h-1zM1014 385h1v1h-1zM1015 383h1v2h-1zM1016 381h1v2h-1zM1017 379h1v2h-1zM1018 378h1v1h-1zM1019 377h1v1h-1zM1020 375h1v2h-1zM1021 374h1v1h-1zM1022 373h1v1h-1zM1023 372h1v1h-1zM1024 371h1v1h-1zM1025 370h1v1h-1zM1026 369h1v1h-1zM1027 367h1v2h-1zM1028 366h1v1h-1zM1029 364h1v2h-1zM1030 363h1v1h-1zM1031 362h1v1h-1zM1032 361h1v1h-1zM1033 360h1v1h-1zM1034 359h1v1h-1zM1035 358h1v1h-1zM1036 356h1v2h-1zM1037 355h1v1h-1zM1038 354h1v1h-1zM1039 353h1v1h-1zM1040 351h1v2h-1zM1041 350h1v1h-1zM1042 349h1v1h-1zM1043 348h1v1h-1zM1044 347h1v1h-1zM1045 346h1v1h-1zM1046 345h1v1h-1zM1047 344h1v1h-1zM1048 343h1v1h-1zM1049 342h1v1h-1zM1050 341h1v1h-1zM1051 340h1v1h-1zM1052 339h1v1h-1zM1053 338h1v1h-1zM1054 337h1v1h-1zM1055 336h1v1h-1zM1056 334h1v2h-1zM1057 333h1v1h-1zM1058 332h1v1h-1zM1059 331h2v1h-2zM1061 330h1v1h-1zM1062 329h1v1h-1zM1063 328h2v1h-2zM1065 327h1v1h-1zM1066 326h1v1h-1zM1067 325h1v1h-1zM1068 324h1v1h-1zM1069 323h1v1h-1zM1070 322h1v1h-1zM1071 321h1v1h-1zM1072 320h1v1h-1zM1073 319h1v1h-1zM1074 318h1v1h-1zM1075 317h1v1h-1zM1076 316h1v1h-1zM1077 315h1v1h-1zM1078 314h1v1h-1zM1079 313h2v1h-2zM1081 312h1v1h-1zM1082 311h1v1h-1zM1083 310h1v1h-1zM1084 309h1v1h-1zM1085 308h1v1h-1zM1086 307h2v1h-2zM1088 306h2v1h-2zM1090 305h3v1h-3zM1093 304h3v1h-3zM1096 303h2v1h-2zM1098 302h2v1h-2zM1100 301h2v1h-2zM1102 300h2v1h-2zM1104 299h2v1h-2zM1106 298h3v1h-3zM1109 297h4v1h-4zM1113 298h4v1h-4zM1117 297h8v1h-8zM1125 296h8v1h-8zM1133 295h4v1h-4zM1137 294h3v1h-3zM1140 293h2v1h-2zM1142 292h2v1h-2zM1144 291h2v1h-2zM1146 290h2v1h-2zM1148 289h2v1h-2zM1150 288h1v1h-1zM1151 287h2v1h-2zM1153 286h1v1h-1zM1154 285h1v1h-1zM1155 284h1v1h-1zM1156 283h1v1h-1zM1157 282h1v1h-1zM1158 281h1v1h-1zM1159 280h1v1h-1zM1160 278h1v2h-1zM1161 277h1v1h-1zM1162 276h1v1h-1zM1163 275h1v1h-1zM1164 273h1v2h-1zM1165 272h1v1h-1zM1166 271h1v1h-1zM1167 269h1v2h-1zM1168 268h1v1h-1zM1169 266h1v2h-1zM1170 265h1v1h-1zM1171 264h1v1h-1zM1172 262h1v2h-1zM1173 261h1v1h-1zM1174 260h1v1h-1zM1175 259h1v1h-1zM1176 257h1v2h-1zM1177 256h1v1h-1zM1178 255h1v1h-1zM1179 253h1v2h-1zM1180 252h1v1h-1zM1181 250h1v2h-1zM1182 249h1v1h-1zM1183 247h1v2h-1zM1184 245h1v2h-1zM1185 243h1v2h-1zM1186 242h1v1h-1zM1187 240h1v2h-1zM1188 238h1v2h-1zM1189 236h1v2h-1zM1190 235h1v1h-1zM1191 233h1v2h-1zM1192 231h1v2h-1zM1193 229h1v2h-1zM1194 228h1v1h-1zM1195 226h1v2h-1zM1196 225h1v1h-1zM1197 223h1v2h-1zM1198 222h1v1h-1zM1199 220h1v2h-1zM1200 219h1v1h-1zM1201 217h1v2h-1zM1202 216h1v1h-1zM1203 214h1v2h-1zM1204 212h1v2h-1zM1205 210h1v2h-1zM1206 209h1v1h-1zM1207 207h1v2h-1zM1208 205h1v2h-1zM1209 203h1v2h-1zM1210 202h1v1h-1zM1211 200h1v2h-1zM1212 198h1v2h-1zM1213 196h1v2h-1zM1214 195h1v1h-1zM1215 193h1v2h-1zM1216 192h1v1h-1zM1217 190h1v2h-1zM1218 189h1v1h-1zM1219 188h1v1h-1zM1220 186h1v2h-1zM1221 185h1v1h-1zM1222 184h1v1h-1zM1223 182h1v2h-1zM1224 181h1v1h-1zM1225 179h1v2h-1zM1226 178h1v1h-1zM1227 177h1v1h-1zM1228 175h1v2h-1zM1229 174h1v1h-1zM1230 173h1v1h-1zM1231 171h1v2h-1zM1232 170h1v1h-1zM1233 168h1v2h-1zM1234 167h1v1h-1zM1235 165h1v2h-1zM1236 164h1v1h-1zM1237 162h1v2h-1zM1238 161h1v1h-1zM1239 159h1v2h-1zM1240 157h1v2h-1zM1241 155h1v2h-1zM1242 154h1v1h-1zM1243 152h1v2h-1zM1244 151h1v1h-1zM1245 149h1v2h-1zM1246 148h1v1h-1zM1247 146h1v2h-1zM1248 145h1v1h-1zM1249 143h1v2h-1zM1250 142h1v1h-1zM1251 140h1v2h-1zM1252 139h1v1h-1zM1253 137h1v2h-1zM1254 136h1v1h-1zM1255 135h1v1h-1zM1256 133h1v2h-1zM1257 132h1v1h-1zM1258 131h1v1h-1zM1259 130h1v1h-1zM1260 129h1v1h-1zM1261 128h1v1h-1zM1262 127h1v1h-1zM1263 126h1v1h-1zM1264 125h1v1h-1zM1265 124h1v1h-1zM1266 123h1v1h-1zM1267 122h1v1h-1zM1268 121h1v1h-1zM1269 120h1v1h-1zM1270 119h1v1h-1z"/>
<path fill="#ff0000" shape-rendering="crispEdges" d="M6 337h1v1h-1zM7 338h2v1h-2zM9 339h1v1h-1zM10 340h2v1h-2zM12 341h2v1h-2zM14 342h3v1h-3zM17 343h3v1h-3zM20 344h2v1h-2zM22 345h1v1h-1zM23 346h2v1h-2zM25 347h1v1h-1zM26 348h1v1h-1zM27 349h1v1h-1zM28 350h1v1h-1zM29 351h1v1h-1zM30 352h1v1h-1zM31 353h2v1h-2zM33 354h1v1h-1zM34 355h1v1h-1zM35 356h1v1h-1zM36 357h1v1h-1zM37 358h1v1h-1zM38 359h1v1h-1zM39 360h2v1h-2zM41 361h1v1h-1zM42 362h1v1h-1zM43 363h2v1h-2zM45 364h1v1h-1zM46 365h1v1h-1zM47 366h2v1h-2zM49 367h1v1h-1zM50 368h2v1h-2zM52 369h2v1h-2zM54 370h3v1h-3zM57 371h3v1h-3zM60 372h2v1h-2zM62 373h3v1h-3zM65 374h2v1h-2zM67 375h2v1h-2zM69 376h1v1h-1zM70 377h2v1h-2zM72 378h2v1h-2zM74 379h1v1h-1zM75 380h2v1h-2zM77 381h1v1h-1zM78 382h7v1h-7zM85 383h4v1h-4zM89 382h7v1h-7zM96 381h2v1h-2zM98 380h2v1h-2zM100 379h2v1h-2zM102 378h2v1h-2zM104 377h2v1h-2zM106 376h7v1h-7zM113 377h4v1h-4zM117 378h4v1h-4zM121 379h2v1h-2zM123 380h2v1h-2zM125 381h1v1h-1zM126 382h2v1h-2zM128 383h2v1h-2zM130 384h2v1h-2zM132 385h2v1h-2zM134 386h1v1h-1zM135 387h2v1h-2zM137 388h1v1h-1zM138 389h1v1h-1zM139 390h1v1h-1zM140 391h1v2h-1zM141 393h1v1h-1zM142 394h1v1h-1zM143 395h2v1h-2zM145 396h1v1h-1zM146 397h3v1h-3zM149 398h3v1h-3zM152 399h2v1h-2zM154 400h2v1h-2zM156 401h2v1h-2zM158 402h2v1h-2zM160 403h2v1h-2zM162 404h6v1h-6zM168 405h2v1h-2zM170 406h10v1h-10zM180 405h2v1h-2zM182 404h1v1h-1zM183 403h2v1h-2zM185 402h1v1h-1zM186 401h2v1h-2zM188 400h2v1h-2zM190 399h1v1h-1zM191 398h2v1h-2zM193 397h1v1h-1zM194 396h1v1h-1zM195 395h1v1h-1zM196 394h1v1h-1zM197 393h1v1h-1zM198 392h1v1h-1zM199 391h1v1h-1zM200 389h1v2h-1zM201 388h1v1h-1zM202 387h1v1h-1zM203 386h1v1h-1zM204 384h1v2h-1zM205 383h1v1h-1zM206 382h1v1h-1zM207 381h1v1h-1zM208 380h1v1h-1zM209 379h1v1h-1zM210 378h1v1h-1zM211 377h1v1h-1zM212 375h1v2h-1zM213 374h1v1h-1zM214 373h1v1h-1zM215 372h1v1h-1zM216 371h1v1h-1zM217 370h1v1h-1zM218 369h1v1h-1zM219 368h2v1h-2zM221 367h1v1h-1zM222 366h1v1h-1zM223 365h1v1h-1zM224 364h1v1h-1zM225 363h1v1h-1zM226 362h2v1h-2zM228 361h2v1h-2zM230 360h2v1h-2zM232 359h2v1h-2zM234 358h3v1h-3zM237 357h3v1h-3zM240 356h2v1h-2zM242 355h1v1h-1zM243 354h2v1h-2zM245 353h1v1h-1zM246 352h1v1h-1zM247 351h2v1h-2zM249 350h1v1h-1zM250 349h2v1h-2zM252 348h2v1h-2zM254 347h3v1h-3zM257 346h7v1h-7zM264 347h2v1h-2zM266 348h2v1h-2zM268 349h2v1h-2zM270 350h2v1h-2zM272 351h2v1h-2zM274 352h1v1h-1zM275 353h2v1h-2zM277 354h1v1h-1zM278 355h2v1h-2zM280 356h2v1h-2zM282 357h3v1h-3zM285 358h3v1h-3zM288 359h2v1h-2zM290 360h2v1h-2zM292 361h2v1h-2zM294 362h1v1h-1zM295 363h2v1h-2zM297 364h1v1h-1zM298 365h3v1h-3zM301 366h2v1h-2zM303 367h2v1h-2zM305 368h1v1h-1zM306 369h2v1h-2zM308 370h2v1h-2zM310 371h2v1h-2zM312 372h2v1h-2zM314 373h2v1h-2zM316 374h2v1h-2zM318 375h7v1h-7zM325 376h4v1h-4zM329 377h12v1h-12zM341 378h4v1h-4zM345 379h4v1h-4zM349 378h8v1h-8zM357 377h8v1h-8zM365 376h12v1h-12zM377 377h4v1h-4zM381 376h3v1h-3zM384 375h2v1h-2zM386 374h3v1h-3zM389 373h2v1h-2zM391 372h2v1h-2zM393 371h1v1h-1zM394 370h1v1h-1zM395 369h1v1h-1zM396 368h1v1h-1zM397 367h1v1h-1zM398 366h2v1h-2zM400 365h2v1h-2zM402 364h1v1h-1zM403 363h2v1h-2zM405 362h1v1h-1zM406 361h1v1h-1zM407 360h1v1h-1zM408 359h1v1h-1zM409 358h1v1h-1zM410 357h3v1h-3zM413 356h4v1h-4zM417 355h8v1h-8zM425 356h4v1h-4zM429 355h4v1h-4zM433 354h8v1h-8zM441 353h3v1h-3zM444 352h2v1h-2zM446 351h3v1h-3zM449 350h3v1h-3zM452 349h2v1h-2zM454 348h1v1h-1zM455 347h2v1h-2zM457 346h1v1h-1zM458 345h2v1h-2zM460 344h2v1h-2zM462 343h3v1h-3zM465 342h4v1h-4zM469 341h4v1h-4zM473 340h2v1h-2zM475 339h2v1h-2zM477 338h1v1h-1zM478 337h3v1h-3zM481 336h4v1h-4zM485 335h4v1h-4zM489 334h8v1h-8zM497 333h4v1h-4zM501 334h3v1h-3zM504 335h2v1h-2zM506 336h3v1h-3zM509 337h3v1h-3zM512 338h2v1h-2zM514 339h1v1h-1zM515 340h2v1h-2zM517 341h1v1h-1zM518 342h1v1h-1zM519 343h2v1h-2zM521 344h1v1h-1zM522 345h2v1h-2zM524 346h2v1h-2zM526 347h2v1h-2zM528 348h2v1h-2zM530 349h2v1h-2zM532 350h2v1h-2zM534 351h1v1h-1zM535 352h2v1h-2zM537 353h1v1h-1zM538 354h2v1h-2zM540 355h2v1h-2zM542 356h2v1h-2zM544 357h2v1h-2zM546 358h1v1h-1zM547 359h2v1h-2zM549 360h1v1h-1zM550 361h1v1h-1zM551 362h2v1h-2zM553 363h1v1h-1zM554 364h1v1h-1zM555 365h2v1h-2zM557 366h1v1h-1zM558 367h2v1h-2zM560 368h2v1h-2zM562 369h2v1h-2zM564 370h2v1h-2zM566 371h3v1h-3zM569 372h4v1h-4zM573 373h3v1h-3zM576 374h2v1h-2zM578 375h2v1h-2zM580 376h2v1h-2zM582 377h1v1h-1zM583 378h2v1h-2zM585 379h1v1h-1zM586 380h2v1h-2zM588 381h2v1h-2zM590 382h1v1h-1zM591 383h2v1h-2zM593 384h1v1h-1zM594 385h2v1h-2zM596 386h2v1h-2zM598 387h1v1h-1zM599 388h2v1h-2zM601 389h1v1h-1zM602 390h1v1h-1zM603 391h2v1h-2zM605 392h1v1h-1zM606 393h1v1h-1zM607 394h1v1h-1zM608 395h1v1h-1zM609 396h1v1h-1zM610 397h1v1h-1zM611 398h1v1h-1zM612 399h1v1h-1zM613 400h1v1h-1zM614 401h1v1h-1zM615 402h1v1h-1zM616 403h1v2h-1zM617 405h1v1h-1zM618 406h1v1h-1zM619 407h1v2h-1zM620 409h1v1h-1zM621 410h1v2h-1zM622 412h1v1h-1zM623 413h1v2h-1zM624 415h1v2h-1zM625 417h1v2h-1zM626 419h1v1h-1zM627 420h1v2h-1zM628 422h1v2h-1zM629 424h1v2h-1zM630 426h1v1h-1zM631 427h1v1h-1zM632 428h1v2h-1zM633 430h1v1h-1zM634 431h1v1h-1zM635 432h1v1h-1zM636 433h1v1h-1zM637 434h1v1h-1zM638 435h1v1h-1zM639 436h2v1h-2zM641 437h1v1h-1zM642 438h1v1h-1zM643 439h2v1h-2zM645 440h1v1h-1zM646 441h2v1h-2zM648 442h2v1h-2zM650 443h3v1h-3zM653 444h4v1h-4zM657 443h2v1h-2zM659 442h2v1h-2zM661 441h1v1h-1zM662 440h1v1h-1zM663 439h1v1h-1zM664 438h1v1h-1zM665 437h1v1h-1zM666 436h1v1h-1zM667 434h1v2h-1zM668 432h1v2h-1zM669 430h1v2h-1zM670 428h1v2h-1zM671 426h1v2h-1zM672 424h1v2h-1zM673 422h1v2h-1zM674 419h1v3h-1zM675 417h1v2h-1zM676 415h1v2h-1zM677 413h1v2h-1zM678 411h1v2h-1zM679 409h1v2h-1zM680 407h1v2h-1zM681 405h1v2h-1zM682 402h1v3h-1zM683 399h1v3h-1zM684 395h1v4h-1zM685 392h1v3h-1zM686 389h1v3h-1zM687 386h1v3h-1zM688 382h1v4h-1zM689 379h1v3h-1zM690 376h1v3h-1zM691 372h1v4h-1zM692 369h1v3h-1zM693 365h1v4h-1zM694 362h1v3h-1zM695 359h1v3h-1zM696 356h1v3h-1zM697 353h1v3h-1zM698 350h1v3h-1zM699 347h1v3h-1zM700 345h1v2h-1zM701 342h1v3h-1zM702 340h1v2h-1zM703 339h1v1h-1zM704 337h1v2h-1zM705 336h1v1h-1zM706 335h1v1h-1zM707 334h1v1h-1zM708 332h1v2h-1zM709 331h1v1h-1zM710 330h1v1h-1zM711 329h2v1h-2zM713 328h1v1h-1zM714 327h1v1h-1zM715 326h1v1h-1zM716 325h1v1h-1zM717 324h1v1h-1zM718 323h2v1h-2zM720 324h2v1h-2zM722 325h1v1h-1zM723 326h1v2h-1zM724 328h1v2h-1zM725 330h1v2h-1zM726 332h1v2h-1zM727 334h1v3h-1zM728 337h1v3h-1zM729 340h1v3h-1zM730 343h1v3h-1zM731 346h1v3h-1zM732 349h1v3h-1zM733 352h1v3h-1zM734 355h1v3h-1zM735 358h1v3h-1zM736 361h1v4h-1zM737 365h1v3h-1zM738 368h1v3h-1zM739 371h1v4h-1zM740 375h1v3h-1zM741 378h1v4h-1zM742 382h1v3h-1zM743 385h1v3h-1zM744 388h1v4h-1zM745 392h1v3h-1zM746 395h1v3h-1zM747 398h1v4h-1zM748 402h1v4h-1zM749 406h1v4h-1zM750 410h1v3h-1zM751 413h1v2h-1zM752 415h1v2h-1zM753 417h1v2h-1zM754 419h1v1h-1zM755 420h1v2h-1zM756 422h1v1h-1zM757 423h1v2h-1zM758 425h3v1h-3zM761 424h4v1h-4zM765 425h3v1h-3zM768 426h2v1h-2zM770 427h1v1h-1zM771 428h1v1h-1zM772 429h1v2h-1zM773 431h1v1h-1zM774 432h2v1h-2zM776 433h2v1h-2zM778 434h3v1h-3zM781 435h2v1h-2zM783 434h2v1h-2zM785 433h1v1h-1zM786 432h1v1h-1zM787 431h2v1h-2zM789 430h1v1h-1zM790 429h1v1h-1zM791 428h1v1h-1zM792 426h1v2h-1zM793 425h1v1h-1zM794 424h1v1h-1zM795 423h2v1h-2zM797 422h1v1h-1zM798 421h1v1h-1zM799 420h2v1h-2zM801 419h1v1h-1zM802 418h1v1h-1zM803 417h2v1h-2zM805 416h1v1h-1zM806 415h2v1h-2zM808 416h2v1h-2zM810 417h1v1h-1zM811 418h1v1h-1zM812 419h1v1h-1zM813 420h1v1h-1zM814 421h1v1h-1zM815 422h1v1h-1zM816 423h1v1h-1zM817 424h1v1h-1zM818 425h2v1h-2zM820 426h2v1h-2zM822 427h1v1h-1zM823 428h1v1h-1zM824 429h1v2h-1zM825 431h1v1h-1zM826 432h3v1h-3zM829 433h7v1h-7zM836 432h2v1h-2zM838 431h3v1h-3zM841 430h4v1h-4zM845 429h3v1h-3zM848 430h2v1h-2zM850 431h2v1h-2zM852 432h2v1h-2zM854 433h1v1h-1zM855 434h2v1h-2zM857 435h1v1h-1zM858 436h1v1h-1zM859 437h2v1h-2zM861 438h1v1h-1zM862 439h2v1h-2zM864 440h2v1h-2zM866 441h2v1h-2zM868 442h2v1h-2zM870 443h3v1h-3zM873 444h3v1h-3zM876 443h2v1h-2zM878 442h1v1h-1zM879 441h1v1h-1zM880 440h1v1h-1zM881 439h1v1h-1zM882 438h3v1h-3zM885 437h4v1h-4zM889 438h3v1h-3zM892 439h2v1h-2zM894 440h3v1h-3zM897 441h4v1h-4zM901 440h4v1h-4zM905 439h7v1h-7zM912 438h2v1h-2zM914 437h7v1h-7zM921 438h4v1h-4zM925 439h2v1h-2zM927 440h2v1h-2zM929 441h1v1h-1zM930 442h2v1h-2zM932 443h2v1h-2zM934 444h3v1h-3zM937 445h3v1h-3zM940 444h2v1h-2zM942 443h2v1h-2zM944 442h2v1h-2zM946 441h1v1h-1zM947 440h2v1h-2zM949 439h1v1h-1zM950 438h2v1h-2zM952 437h2v1h-2zM954 436h3v1h-3zM957 435h2v1h-2zM959 434h2v1h-2zM961 433h1v1h-1zM962 432h1v1h-1zM963 431h1v1h-1zM964 430h1v1h-1zM965 429h1v1h-1zM966 428h1v1h-1zM967 427h1v1h-1zM968 425h1v2h-1zM969 424h1v1h-1zM970 423h1v1h-1zM971 421h1v2h-1zM972 419h1v2h-1zM973 417h1v2h-1zM974 416h1v1h-1zM975 414h1v2h-1zM976 412h1v2h-1zM977 410h1v2h-1zM978 408h1v2h-1zM979 406h1v2h-1zM980 404h1v2h-1zM981 402h1v2h-1zM982 400h1v2h-1zM983 398h1v2h-1zM984 396h1v2h-1zM985 394h1v2h-1zM986 391h1v3h-1zM987 389h1v2h-1zM988 387h1v2h-1zM989 385h1v2h-1zM990 383h1v2h-1zM991 381h1v2h-1zM992 378h1v3h-1zM993 376h1v2h-1zM994 373h1v3h-1zM995 371h1v2h-1zM996 369h1v2h-1zM997 367h1v2h-1zM998 365h1v2h-1zM999 363h1v2h-1zM1000 361h1v2h-1zM1001 359h1v2h-1zM1002 357h1v2h-1zM1003 354h1v3h-1zM1004 352h1v2h-1zM1005 349h1v3h-1zM1006 346h1v3h-1zM1007 343h1v3h-1zM1008 341h1v2h-1zM1009 338h1v3h-1zM1010 335h1v3h-1zM1011 332h1v3h-1zM1012 330h1v2h-1zM1013 327h1v3h-1zM1014 324h1v3h-1zM1015 321h1v3h-1zM1016 319h1v2h-1zM1017 316h1v3h-1zM1018 314h1v2h-1zM1019 312h1v2h-1zM1020 310h1v2h-1zM1021 308h1v2h-1zM1022 307h1v1h-1zM1023 306h1v1h-1zM1024 305h1v1h-1zM1025 304h1v1h-1zM1026 303h1v1h-1zM1027 302h1v1h-1zM1028 301h1v1h-1zM1029 300h1v1h-1zM1030 299h1v1h-1zM1031 298h1v1h-1zM1032 297h1v1h-1zM1033 296h1v1h-1zM1034 295h2v1h-2zM1036 294h2v1h-2zM1038 293h2v1h-2zM1040 292h2v1h-2zM1042 291h2v1h-2zM1044 292h2v1h-2zM1046 293h1v1h-1zM1047 294h2v1h-2zM1049 295h1v1h-1zM1050 296h3v1h-3zM1053 297h4v1h-4zM1057 296h4v1h-4zM1061 297h2v1h-2zM1063 298h2v1h-2zM1065 299h1v1h-1zM1066 300h1v1h-1zM1067 301h1v1h-1zM1068 302h1v1h-1zM1069 303h1v1h-1zM1070 304h1v1h-1zM1071 305h1v1h-1zM1072 306h1v1h-1zM1073 307h1v1h-1zM1074 308h23v1h-23zM1097 307h2v1h-2zM1099 306h2v1h-2zM1101 305h1v1h-1zM1102 304h1v1h-1zM1103 303h2v1h-2zM1105 302h1v1h-1zM1106 301h2v1h-2zM1108 300h2v1h-2zM1110 299h3v1h-3zM1113 300h4v1h-4zM1117 299h3v1h-3zM1120 298h2v1h-2zM1122 297h1v1h-1zM1123 296h1v1h-1zM1124 295h1v1h-1zM1125 294h1v1h-1zM1126 293h1v1h-1zM1127 292h1v1h-1zM1128 291h1v1h-1zM1129 290h1v1h-1zM1130 289h1v1h-1zM1131 288h1v1h-1zM1132 286h1v2h-1zM1133 285h1v1h-1zM1134 284h1v1h-1zM1135 283h1v1h-1zM1136 281h1v2h-1zM1137 280h1v1h-1zM1138 279h1v1h-1zM1139 278h1v1h-1zM1140 277h1v1h-1zM1141 276h1v1h-1zM1142 275h1v1h-1zM1143 274h1v1h-1zM1144 272h1v2h-1zM1145 271h1v1h-1zM1146 270h1v1h-1zM1147 269h1v1h-1zM1148 267h1v2h-1zM1149 266h1v1h-1zM1150 265h1v1h-1zM1151 263h1v2h-1zM1152 262h1v1h-1zM1153 260h1v2h-1zM1154 259h1v1h-1zM1155 257h1v2h-1zM1156 255h1v2h-1zM1157 253h1v2h-1zM1158 251h1v2h-1zM1159 249h1v2h-1zM1160 247h1v2h-1zM1161 245h1v2h-1zM1162 243h1v2h-1zM1163 241h1v2h-1zM1164 239h1v2h-1zM1165 237h1v2h-1zM1166 235h1v2h-1zM1167 233h1v2h-1zM1168 231h1v2h-1zM1169 229h1v2h-1zM1170 226h1v3h-1zM1171 223h1v3h-1zM1172 221h1v2h-1zM1173 218h1v3h-1zM1174 215h1v3h-1zM1175 212h1v3h-1zM1176 210h1v2h-1zM1177 207h1v3h-1zM1178 204h1v3h-1zM1179 202h1v2h-1zM1180 199h1v3h-1zM1181 197h1v2h-1zM1182 194h1v3h-1zM1183 192h1v2h-1zM1184 190h1v2h-1zM1185 188h1v2h-1zM1186 185h1v3h-1zM1187 182h1v3h-1zM1188 180h1v2h-1zM1189 177h1v3h-1zM1190 174h1v3h-1zM1191 172h1v2h-1zM1192 170h1v2h-1zM1193 168h1v2h-1zM1194 165h1v3h-1zM1195 163h1v2h-1zM1196 161h1v2h-1zM1197 159h1v2h-1zM1198 157h1v2h-1zM1199 155h1v2h-1zM1200 153h1v2h-1zM1201 151h1v2h-1zM1202 149h1v2h-1zM1203 146h1v3h-1zM1204 144h1v2h-1zM1205 141h1v3h-1zM1206 138h1v3h-1zM1207 136h1v2h-1zM1208 134h1v2h-1zM1209 132h1v2h-1zM1210 130h1v2h-1zM1211 129h1v1h-1zM1212 127h1v2h-1zM1213 126h1v1h-1zM1214 125h1v1h-1zM1215 124h1v1h-1zM1216 123h1v1h-1zM1217 122h1v1h-1zM1218 121h1v1h-1zM1219 120h2v1h-2zM1221 119h1v1h-1zM1222 118h1v1h-1zM1223 117h1v1h-1zM1224 116h1v1h-1zM1225 115h1v1h-1zM1226 114h3v1h-3zM1229 113h3v1h-3zM1232 112h2v1h-2zM1234 111h3v1h-3zM1237 110h3v1h-3zM1240 109h2v1h-2zM1242 108h3v1h-3zM1245 107h2v1h-2zM1247 106h2v1h-2zM1249 105h1v1h-1zM1250 104h1v1h-1zM1251 103h1v1h-1zM1252 102h1v1h-1zM1253 101h1v1h-1zM1254 100h2v1h-2zM1256 99h2v1h-2zM1258 98h1v1h-1zM1259 99h2v1h-2zM1261 100h1v1h-1zM1262 101h3v1h-3zM1265 102h6v1h-6z"/>
<path fill="#ffa500" shape-rendering="crispEdges" d="M6 358h3v1h-3zM9 359h2v1h-2zM11 358h1v1h-1zM12 357h1v1h-1zM13 356h1v1h-1zM14 355h1v1h-1zM15 354h1v1h-1zM16 352h1v2h-1zM17 351h1v1h-1zM18 350h3v1h-3zM21 349h4v1h-4zM25 350h6v1h-6zM31 351h1v2h-1zM32 353h1v2h-1zM33 355h1v2h-1zM34 357h1v2h-1zM35 359h1v3h-1zM36 362h1v2h-1zM37 364h1v3h-1zM38 367h1v3h-1zM39 370h1v2h-1zM40 372h1v2h-1zM41 374h1v2h-1zM42 376h1v3h-1zM43 379h1v2h-1zM44 381h1v2h-1zM45 383h1v2h-1zM46 385h1v3h-1zM47 388h1v2h-1zM48 390h1v2h-1zM49 392h1v2h-1zM50 394h1v1h-1zM51 395h2v1h-2zM53 396h1v1h-1zM54 397h1v1h-1zM55 396h1v1h-1zM56 395h1v1h-1zM57 394h1v1h-1zM58 393h1v1h-1zM59 392h1v1h-1zM60 391h1v1h-1zM61 390h1v1h-1zM62 389h1v1h-1zM63 388h1v1h-1zM64 386h1v2h-1zM65 385h1v1h-1zM66 384h1v1h-1zM67 382h1v2h-1zM68 381h1v1h-1zM69 379h1v2h-1zM70 378h2v1h-2zM72 377h2v1h-2zM74 376h1v1h-1zM75 377h2v1h-2zM77 378h1v1h-1zM78 379h2v1h-2zM80 378h2v1h-2zM82 377h1v1h-1zM83 376h1v1h-1zM84 375h1v1h-1zM85 374h1v1h-1zM86 373h6v1h-6zM92 374h2v1h-2zM94 375h1v1h-1zM95 374h1v1h-1zM96 373h1v1h-1zM97 372h1v1h-1zM98 371h2v1h-2zM100 372h2v1h-2zM102 373h2v1h-2zM104 374h2v1h-2zM106 375h1v1h-1zM107 376h1v1h-1zM108 377h1v2h-1zM109 379h1v1h-1zM110 380h3v1h-3zM113 379h2v1h-2zM115 380h1v1h-1zM116 381h1v2h-1zM117 383h1v1h-1zM118 384h1v1h-1zM119 385h1v1h-1zM120 386h1v1h-1zM121 387h1v1h-1zM122 388h1v1h-1zM123 389h1v2h-1zM124 391h1v1h-1zM125 392h1v2h-1zM126 394h1v1h-1zM127 395h1v1h-1zM128 396h1v2h-1zM129 398h1v1h-1zM130 399h1v1h-1zM131 400h1v1h-1zM132 401h1v2h-1zM133 403h1v1h-1zM134 404h1v1h-1zM135 405h1v1h-1zM136 406h1v1h-1zM137 407h1v1h-1zM138 408h1v1h-1zM139 409h1v2h-1zM140 411h1v1h-1zM141 412h1v2h-1zM142 414h2v1h-2zM144 415h2v1h-2zM146 416h3v1h-3zM149 415h2v1h-2zM151 414h1v1h-1zM152 413h1v1h-1zM153 412h1v1h-1zM154 411h2v1h-2zM156 410h2v1h-2zM158 409h1v1h-1zM159 408h1v1h-1zM160 406h1v2h-1zM161 405h1v1h-1zM162 404h1v1h-1zM163 403h1v1h-1zM164 402h1v1h-1zM165 401h1v1h-1zM166 400h7v1h-7zM173 401h2v1h-2zM175 400h2v1h-2zM177 399h1v1h-1zM178 398h1v1h-1zM179 397h1v1h-1zM180 396h1v1h-1zM181 395h1v1h-1zM182 394h1v1h-1zM183 393h1v1h-1zM184 392h1v1h-1zM185 391h1v1h-1zM186 390h1v1h-1zM187 389h1v1h-1zM188 387h1v2h-1zM189 386h1v1h-1zM190 385h1v1h-1zM191 384h1v1h-1zM192 382h1v2h-1zM193 381h1v1h-1zM194 380h1v1h-1zM195 379h1v1h-1zM196 378h1v1h-1zM197 377h1v1h-1zM198 376h1v1h-1zM199 374h1v2h-1zM200 372h1v2h-1zM201 370h1v2h-1zM202 369h1v1h-1zM203 367h1v2h-1zM204 365h1v2h-1zM205 363h1v2h-1zM206 361h1v2h-1zM207 359h1v2h-1zM208 356h1v3h-1zM209 354h1v2h-1zM210 351h1v3h-1zM211 349h1v2h-1zM212 347h1v2h-1zM213 345h1v2h-1zM214 344h1v1h-1zM215 343h1v1h-1zM216 342h1v1h-1zM217 341h1v1h-1zM218 340h3v1h-3zM221 341h2v1h-2zM223 342h1v1h-1zM224 343h1v1h-1zM225 344h1v1h-1zM226 345h1v1h-1zM227 346h1v2h-1zM228 348h1v1h-1zM229 349h1v2h-1zM230 351h1v1h-1zM231 352h1v1h-1zM232 353h1v1h-1zM233 354h1v1h-1zM234 355h1v1h-1zM235 356h2v1h-2zM237 357h1v1h-1zM238 358h7v1h-7zM245 357h2v1h-2zM247 355h1v2h-1zM248 354h1v1h-1zM249 352h1v2h-1zM250 351h1v1h-1zM251 349h1v2h-1zM252 348h1v1h-1zM253 346h1v2h-1zM254 345h1v1h-1zM255 344h1v1h-1zM256 342h1v2h-1zM257 341h1v1h-1zM258 340h1v1h-1zM259 339h2v1h-2zM261 338h1v1h-1zM262 337h1v1h-1zM263 338h1v1h-1zM264 339h1v1h-1zM265 340h1v1h-1zM266 341h1v1h-1zM267 342h1v1h-1zM268 343h1v2h-1zM269 345h1v1h-1zM270 346h1v2h-1zM271 348h1v2h-1zM272 350h1v2h-1zM273 352h1v2h-1zM274 354h1v3h-1zM275 357h1v2h-1zM276 359h1v3h-1zM277 362h1v2h-1zM278 364h1v3h-1zM279 367h1v2h-1zM280 369h1v2h-1zM281 371h1v2h-1zM282 373h1v2h-1zM283 375h2v1h-2zM285 376h1v1h-1zM286 377h1v1h-1zM287 378h1v1h-1zM288 379h1v2h-1zM289 381h1v1h-1zM290 382h2v1h-2zM292 383h2v1h-2zM294 384h2v1h-2zM296 385h2v1h-2zM298 386h1v1h-1zM299 385h2v1h-2zM301 384h1v1h-1zM302 383h3v1h-3zM305 382h2v1h-2zM307 381h1v1h-1zM308 379h1v2h-1zM309 378h1v1h-1zM310 377h1v1h-1zM311 376h1v1h-1zM312 374h1v2h-1zM313 373h1v1h-1zM314 372h1v1h-1zM315 371h1v1h-1zM316 370h1v1h-1zM317 369h1v1h-1zM318 368h2v1h-2zM320 367h2v1h-2zM322 366h2v1h-2zM324 367h2v1h-2zM326 368h1v1h-1zM327 369h2v1h-2zM329 370h1v1h-1zM330 371h1v1h-1zM331 372h1v1h-1zM332 373h1v2h-1zM333 375h1v1h-1zM334 376h1v1h-1zM335 377h1v1h-1zM336 378h1v1h-1zM337 379h1v1h-1zM338 380h1v1h-1zM339 381h1v1h-1zM340 382h1v2h-1zM341 384h1v1h-1zM342 385h2v1h-2zM344 386h2v1h-2zM346 387h9v1h-9zM355 386h1v1h-1zM356 385h1v1h-1zM357 384h1v1h-1zM358 383h1v1h-1zM359 381h1v2h-1zM360 380h1v1h-1zM361 378h1v2h-1zM362 377h1v1h-1zM363 375h1v2h-1zM364 374h1v1h-1zM365 372h1v2h-1zM366 371h1v1h-1zM367 370h1v1h-1zM368 369h1v1h-1zM369 368h1v1h-1zM370 367h1v1h-1zM371 366h2v1h-2zM373 365h1v1h-1zM374 364h3v1h-3zM377 365h4v1h-4zM381 366h8v1h-8zM389 367h2v1h-2zM391 366h1v1h-1zM392 364h1v2h-1zM393 363h1v1h-1zM394 362h1v1h-1zM395 361h1v1h-1zM396 359h1v2h-1zM397 358h1v1h-1zM398 357h1v1h-1zM399 356h1v1h-1zM400 355h1v1h-1zM401 354h1v1h-1zM402 353h1v1h-1zM403 352h1v1h-1zM404 351h1v1h-1zM405 350h1v1h-1zM406 349h1v1h-1zM407 348h1v1h-1zM408 346h1v2h-1zM409 345h1v1h-1zM410 344h7v1h-7zM417 345h2v1h-2zM419 346h2v1h-2zM421 347h1v1h-1zM422 348h1v1h-1zM423 349h1v1h-1zM424 350h1v1h-1zM425 351h1v1h-1zM426 352h1v1h-1zM427 353h1v1h-1zM428 354h1v2h-1zM429 356h1v1h-1zM430 357h1v1h-1zM431 358h2v1h-2zM433 359h1v1h-1zM434 360h2v1h-2zM436 361h2v1h-2zM438 362h3v1h-3zM441 361h2v1h-2zM443 359h1v2h-1zM444 357h1v2h-1zM445 355h1v2h-1zM446 354h1v1h-1zM447 352h1v2h-1zM448 351h1v1h-1zM449 349h1v2h-1zM450 347h1v2h-1zM451 345h1v2h-1zM452 343h1v2h-1zM453 341h1v2h-1zM454 339h1v2h-1zM455 337h1v2h-1zM456 334h1v3h-1zM457 332h1v2h-1zM458 329h1v3h-1zM459 327h1v2h-1zM460 325h1v2h-1zM461 323h1v2h-1zM462 322h1v1h-1zM463 321h2v1h-2zM465 320h1v1h-1zM466 319h3v1h-3zM469 320h2v1h-2zM471 321h2v1h-2zM473 322h1v1h-1zM474 323h1v1h-1zM475 324h2v1h-2zM477 325h1v1h-1zM478 326h1v1h-1zM479 327h1v1h-1zM480 328h1v2h-1zM481 330h1v1h-1zM482 331h1v1h-1zM483 332h1v1h-1zM484 333h1v2h-1zM485 335h1v1h-1zM486 336h1v1h-1zM487 337h1v1h-1zM488 338h1v2h-1zM489 340h1v1h-1zM490 341h1v1h-1zM491 342h2v1h-2zM493 343h1v1h-1zM494 344h1v1h-1zM495 345h1v1h-1zM496 346h1v2h-1zM497 348h1v1h-1zM498 349h3v1h-3zM501 350h6v1h-6zM507 349h1v1h-1zM508 348h1v1h-1zM509 347h1v1h-1zM510 346h2v1h-2zM512 345h2v1h-2zM514 344h2v1h-2zM516 345h2v1h-2zM518 346h1v1h-1zM519 347h2v1h-2zM521 348h1v1h-1zM522 349h1v1h-1zM523 350h2v1h-2zM525 351h1v1h-1zM526 352h1v1h-1zM527 353h1v1h-1zM528 354h1v1h-1zM529 355h1v1h-1zM530 356h1v1h-1zM531 357h1v1h-1zM532 358h1v1h-1zM533 359h1v1h-1zM534 360h1v1h-1zM535 361h1v1h-1zM536 362h1v1h-1zM537 363h1v1h-1zM538 364h1v1h-1zM539 365h1v1h-1zM540 366h1v1h-1zM541 367h1v1h-1zM542 368h1v1h-1zM543 369h1v1h-1zM544 370h1v1h-1zM545 371h1v1h-1zM546 372h1v1h-1zM547 373h1v2h-1zM548 375h1v1h-1zM549 376h1v2h-1zM550 378h1v1h-1zM551 379h1v1h-1zM552 380h1v2h-1zM553 382h1v1h-1zM554 383h1v1h-1zM555 384h1v1h-1zM556 385h1v1h-1zM557 386h1v1h-1zM558 387h3v1h-3zM561 386h2v1h-2zM563 385h1v1h-1zM564 384h1v1h-1zM565 383h1v1h-1zM566 382h1v1h-1zM567 381h1v1h-1zM568 379h1v2h-1zM569 378h1v1h-1zM570 377h1v1h-1zM571 376h1v1h-1zM572 375h1v1h-1zM573 374h1v1h-1zM574 373h1v1h-1zM575 372h2v1h-2zM577 371h1v1h-1zM578 370h1v1h-1zM579 371h2v1h-2zM581 372h1v1h-1zM582 373h1v1h-1zM583 374h1v2h-1zM584 376h1v2h-1zM585 378h1v2h-1zM586 380h1v2h-1zM587 382h1v2h-1zM588 384h1v2h-1zM589 386h1v2h-1zM590 388h1v2h-1zM591 390h1v2h-1zM592 392h1v2h-1zM593 394h1v2h-1zM594 396h1v2h-1zM595 398h1v2h-1zM596 400h1v2h-1zM597 402h1v2h-1zM598 404h1v1h-1zM599 405h1v2h-1zM600 407h1v1h-1zM601 408h1v2h-1zM602 410h1v1h-1zM603 411h1v2h-1zM604 413h1v1h-1zM605 414h1v2h-1zM606 416h1v2h-1zM607 418h1v2h-1zM608 420h1v2h-1zM609 422h1v2h-1zM610 424h1v2h-1zM611 426h1v2h-1zM612 428h1v2h-1zM613 430h1v2h-1zM614 432h1v1h-1zM615 433h1v2h-1zM616 435h1v1h-1zM617 436h1v2h-1zM618 438h1v1h-1zM619 439h1v2h-1zM620 441h1v1h-1zM621 442h1v2h-1zM622 444h1v1h-1zM623 445h1v1h-1zM624 446h1v2h-1zM625 448h1v1h-1zM626 449h1v1h-1zM627 450h1v1h-1zM628 451h1v1h-1zM629 452h1v1h-1zM630 453h1v1h-1zM631 454h2v1h-2zM633 455h1v1h-1zM634 456h3v1h-3zM637 455h3v1h-3zM640 454h2v1h-2zM642 453h1v1h-1zM643 452h2v1h-2zM645 451h1v1h-1zM646 450h1v1h-1zM647 449h1v1h-1zM648 447h1v2h-1zM649 446h1v1h-1zM650 445h1v1h-1zM651 444h1v1h-1zM652 443h1v1h-1zM653 442h1v1h-1zM654 440h1v2h-1zM655 438h1v2h-1zM656 435h1v3h-1zM657 433h1v2h-1zM658 430h1v3h-1zM659 428h1v2h-1zM660 426h1v2h-1zM661 424h1v2h-1zM662 422h1v2h-1zM663 419h1v3h-1zM664 415h1v4h-1zM665 412h1v3h-1zM666 408h1v4h-1zM667 404h1v4h-1zM668 399h1v5h-1zM669 395h1v4h-1zM670 390h1v5h-1zM671 384h1v6h-1zM672 379h1v5h-1zM673 373h1v6h-1zM674 369h1v4h-1zM675 366h1v3h-1zM676 364h1v2h-1zM677 361h1v3h-1zM678 358h1v3h-1zM679 354h1v4h-1zM680 350h1v4h-1zM681 346h1v4h-1zM682 342h1v4h-1zM683 337h1v5h-1zM684 332h1v5h-1zM685 327h1v5h-1zM686 323h1v4h-1zM687 320h1v3h-1zM688 316h1v4h-1zM689 313h1v3h-1zM690 309h1v4h-1zM691 305h1v4h-1zM692 301h1v4h-1zM693 297h1v4h-1zM694 293h1v4h-1zM695 289h1v4h-1zM696 286h1v3h-1zM697 282h1v4h-1zM698 280h1v2h-1zM699 278h1v2h-1zM700 277h1v1h-1zM701 275h1v2h-1zM702 274h1v3h-1zM703 277h1v4h-1zM704 281h1v4h-1zM705 285h1v4h-1zM706 289h1v4h-1zM707 293h1v4h-1zM708 297h1v4h-1zM709 301h1v4h-1zM710 305h1v6h-1zM711 311h1v6h-1zM712 317h1v6h-1zM713 323h1v6h-1zM714 329h1v5h-1zM715 334h1v4h-1zM716 338h1v3h-1zM717 341h1v4h-1zM718 345h1v4h-1zM719 349h1v6h-1zM720 355h1v5h-1zM721 360h1v6h-1zM722 366h1v5h-1zM723 371h1v4h-1zM724 375h1v4h-1zM725 379h1v4h-1zM726 383h1v6h-1zM727 389h1v6h-1zM728 395h1v7h-1zM729 402h1v6h-1zM730 408h1v7h-1zM731 415h1v7h-1zM732 422h1v7h-1zM733 429h1v7h-1zM734 436h1v8h-1zM735 444h1v8h-1zM736 452h1v9h-1zM737 461h1v8h-1zM738 469h1v6h-1zM739 475h1v4h-1zM740 479h1v4h-1zM741 483h1v4h-1zM742 487h1v2h-1zM743 489h2v1h-2zM745 490h1v1h-1zM746 490h1v2h-1zM747 488h1v2h-1zM748 485h1v3h-1zM749 483h1v2h-1zM750 478h1v5h-1zM751 472h1v6h-1zM752 466h1v6h-1zM753 460h1v6h-1zM754 454h1v6h-1zM755 447h1v7h-1zM756 440h1v7h-1zM757 433h1v7h-1zM758 426h1v7h-1zM759 420h1v6h-1zM760 413h1v7h-1zM761 407h1v6h-1zM762 402h1v5h-1zM763 398h1v4h-1zM764 394h1v4h-1zM765 390h1v4h-1zM766 387h1v3h-1zM767 384h1v3h-1zM768 380h1v4h-1zM769 377h1v3h-1zM770 375h1v2h-1zM771 376h1v2h-1zM772 378h1v1h-1zM773 379h1v2h-1zM774 381h1v2h-1zM775 383h1v4h-1zM776 387h1v3h-1zM777 390h1v4h-1zM778 394h1v4h-1zM779 398h1v6h-1zM780 404h1v6h-1zM781 410h1v6h-1zM782 416h1v4h-1zM783 420h1v4h-1zM784 424h1v3h-1zM785 427h1v4h-1zM786 431h1v3h-1zM787 434h1v4h-1zM788 438h1v4h-1zM789 442h1v4h-1zM790 446h1v2h-1zM791 448h2v1h-2zM793 449h1v1h-1zM794 450h4v1h-4zM798 449h1v2h-1zM799 447h1v2h-1zM800 445h1v2h-1zM801 443h1v2h-1zM802 440h1v3h-1zM803 438h1v2h-1zM804 435h1v3h-1zM805 433h1v2h-1zM806 430h1v3h-1zM807 428h1v2h-1zM808 426h1v2h-1zM809 424h1v2h-1zM810 422h1v2h-1zM811 422h2v1h-2zM813 421h2v1h-2zM815 419h1v2h-1zM816 417h1v2h-1zM817 415h1v2h-1zM818 414h3v1h-3zM821 415h2v1h-2zM823 416h1v2h-1zM824 418h1v2h-1zM825 420h1v2h-1zM826 422h1v1h-1zM827 423h1v1h-1zM828 424h1v1h-1zM829 425h1v1h-1zM830 426h2v1h-2zM832 427h2v1h-2zM834 428h1v1h-1zM835 429h1v2h-1zM836 431h1v2h-1zM837 433h1v2h-1zM838 435h1v1h-1zM839 436h1v1h-1zM840 437h1v1h-1zM841 438h1v1h-1zM842 439h3v1h-3zM845 440h2v1h-2zM847 441h1v1h-1zM848 442h1v2h-1zM849 444h1v1h-1zM850 445h1v1h-1zM851 446h1v1h-1zM852 447h1v2h-1zM853 449h1v1h-1zM854 450h1v1h-1zM855 451h1v1h-1zM856 452h1v2h-1zM857 454h1v1h-1zM858 455h2v1h-2zM860 456h2v1h-2zM862 457h5v1h-5zM867 456h2v1h-2zM869 455h1v1h-1zM870 453h1v2h-1zM871 451h1v2h-1zM872 448h1v3h-1zM873 446h1v2h-1zM874 443h1v3h-1zM875 439h1v4h-1zM876 436h1v3h-1zM877 432h1v4h-1zM878 429h1v3h-1zM879 427h1v2h-1zM880 424h1v3h-1zM881 422h1v2h-1zM882 420h1v2h-1zM883 418h1v2h-1zM884 417h1v1h-1zM885 415h1v2h-1zM886 414h3v1h-3zM889 415h1v1h-1zM890 415h1v2h-1zM891 417h1v2h-1zM892 419h1v2h-1zM893 421h1v2h-1zM894 423h1v3h-1zM895 426h1v3h-1zM896 429h1v4h-1zM897 433h1v3h-1zM898 436h1v3h-1zM899 439h1v2h-1zM900 441h1v2h-1zM901 443h1v2h-1zM902 445h1v2h-1zM903 447h1v1h-1zM904 448h1v2h-1zM905 450h1v1h-1zM906 451h3v1h-3zM909 452h2v1h-2zM911 451h1v1h-1zM912 450h1v1h-1zM913 449h1v1h-1zM914 448h2v1h-2zM916 447h2v1h-2zM918 446h1v1h-1zM919 447h1v1h-1zM920 448h1v1h-1zM921 449h1v1h-1zM922 450h2v1h-2zM924 451h2v1h-2zM926 452h5v1h-5zM931 451h2v1h-2zM933 450h1v1h-1zM934 449h1v1h-1zM935 447h1v2h-1zM936 446h1v1h-1zM937 444h1v2h-1zM938 442h1v2h-1zM939 439h1v3h-1zM940 435h1v4h-1zM941 432h1v3h-1zM942 429h1v3h-1zM943 427h1v2h-1zM944 425h1v2h-1zM945 423h1v2h-1zM946 421h1v2h-1zM947 419h1v2h-1zM948 418h1v1h-1zM949 416h1v2h-1zM950 415h5v1h-5zM955 416h2v1h-2zM957 417h1v1h-1zM958 418h3v1h-3zM961 419h4v1h-4zM965 418h1v1h-1zM966 417h1v2h-1zM967 414h1v3h-1zM968 410h1v4h-1zM969 407h1v3h-1zM970 404h1v3h-1zM971 400h1v4h-1zM972 397h1v3h-1zM973 393h1v4h-1zM974 390h1v3h-1zM975 386h1v4h-1zM976 382h1v4h-1zM977 378h1v4h-1zM978 375h1v3h-1zM979 373h1v2h-1zM980 370h1v3h-1zM981 368h1v2h-1zM982 365h1v3h-1zM983 361h1v4h-1zM984 358h1v3h-1zM985 354h1v4h-1zM986 351h1v3h-1zM987 348h1v3h-1zM988 344h1v4h-1zM989 341h1v3h-1zM990 338h1v3h-1zM991 334h1v4h-1zM992 330h1v4h-1zM993 326h1v4h-1zM994 323h1v3h-1zM995 319h1v4h-1zM996 316h1v3h-1zM997 312h1v4h-1zM998 309h1v3h-1zM999 306h1v3h-1zM1000 303h1v3h-1zM1001 300h1v3h-1zM1002 297h1v3h-1zM1003 295h1v2h-1zM1004 293h1v2h-1zM1005 291h1v2h-1zM1006 289h1v2h-1zM1007 287h1v2h-1zM1008 285h1v2h-1zM1009 283h1v2h-1zM1010 282h2v1h-2zM1012 281h2v1h-2zM1014 280h1v1h-1zM1015 278h1v2h-1zM1016 277h1v1h-1zM1017 275h1v2h-1zM1018 274h1v1h-1zM1019 275h2v1h-2zM1021 276h1v1h-1zM1022 277h1v1h-1zM1023 278h1v1h-1zM1024 279h1v1h-1zM1025 280h1v1h-1zM1026 281h1v1h-1zM1027 282h1v2h-1zM1028 284h1v1h-1zM1029 285h1v2h-1zM1030 287h1v1h-1zM1031 288h1v2h-1zM1032 290h1v1h-1zM1033 291h1v2h-1zM1034 293h1v2h-1zM1035 295h1v3h-1zM1036 298h1v3h-1zM1037 301h1v3h-1zM1038 304h1v2h-1zM1039 305h1v1h-1zM1040 306h2v1h-2zM1042 307h1v1h-1zM1043 308h2v1h-2zM1045 309h1v1h-1zM1046 310h1v1h-1zM1047 311h1v2h-1zM1048 313h1v1h-1zM1049 314h1v2h-1zM1050 316h5v1h-5zM1055 314h1v2h-1zM1056 312h1v2h-1zM1057 310h1v2h-1zM1058 309h1v1h-1zM1059 308h1v1h-1zM1060 307h1v1h-1zM1061 306h1v1h-1zM1062 305h2v1h-2zM1064 304h2v1h-2zM1066 303h2v1h-2zM1068 302h2v1h-2zM1070 301h2v1h-2zM1072 302h2v1h-2zM1074 303h1v1h-1zM1075 304h1v2h-1zM1076 306h1v1h-1zM1077 307h1v2h-1zM1078 309h2v1h-2zM1080 310h2v1h-2zM1082 311h1v1h-1zM1083 310h2v1h-2zM1085 309h1v1h-1zM1086 308h2v1h-2zM1088 307h2v1h-2zM1090 306h3v1h-3zM1093 305h6v1h-6zM1099 304h1v1h-1zM1100 302h1v2h-1zM1101 301h1v1h-1zM1102 300h1v1h-1zM1103 299h2v1h-2zM1105 298h1v1h-1zM1106 297h1v1h-1zM1107 296h1v1h-1zM1108 294h1v2h-1zM1109 293h1v1h-1zM1110 292h1v1h-1zM1111 291h1v1h-1zM1112 290h1v1h-1zM1113 289h1v1h-1zM1114 288h1v1h-1zM1115 286h1v2h-1zM1116 285h1v1h-1zM1117 283h1v2h-1zM1118 282h3v1h-3zM1121 283h2v1h-2zM1123 282h1v1h-1zM1124 280h1v2h-1zM1125 279h1v1h-1zM1126 278h1v1h-1zM1127 277h1v1h-1zM1128 275h1v2h-1zM1129 274h1v1h-1zM1130 272h1v2h-1zM1131 270h1v2h-1zM1132 268h1v2h-1zM1133 266h1v2h-1zM1134 264h1v2h-1zM1135 262h1v2h-1zM1136 260h1v2h-1zM1137 258h1v2h-1zM1138 256h1v2h-1zM1139 254h1v2h-1zM1140 251h1v3h-1zM1141 249h1v2h-1zM1142 247h1v2h-1zM1143 246h1v1h-1zM1144 244h1v2h-1zM1145 243h1v1h-1zM1146 242h1v1h-1zM1147 241h2v1h-2zM1149 240h1v1h-1zM1150 239h1v1h-1zM1151 237h1v2h-1zM1152 236h1v1h-1zM1153 234h1v2h-1zM1154 232h1v2h-1zM1155 229h1v3h-1zM1156 227h1v2h-1zM1157 224h1v3h-1zM1158 221h1v3h-1zM1159 218h1v3h-1zM1160 214h1v4h-1zM1161 211h1v3h-1zM1162 208h1v3h-1zM1163 204h1v4h-1zM1164 201h1v3h-1zM1165 197h1v4h-1zM1166 194h1v3h-1zM1167 191h1v3h-1zM1168 187h1v4h-1zM1169 184h1v3h-1zM1170 180h1v4h-1zM1171 176h1v4h-1zM1172 171h1v5h-1zM1173 167h1v4h-1zM1174 163h1v4h-1zM1175 160h1v3h-1zM1176 158h1v2h-1zM1177 155h1v3h-1zM1178 152h1v3h-1zM1179 150h1v2h-1zM1180 147h1v3h-1zM1181 145h1v2h-1zM1182 142h1v3h-1zM1183 139h1v3h-1zM1184 137h1v2h-1zM1185 134h1v3h-1zM1186 131h1v3h-1zM1187 128h1v3h-1zM1188 124h1v4h-1zM1189 121h1v3h-1zM1190 119h1v2h-1zM1191 118h2v1h-2zM1193 117h1v1h-1zM1194 116h3v1h-3zM1197 115h6v1h-6zM1203 113h1v2h-1zM1204 111h1v2h-1zM1205 109h1v2h-1zM1206 108h1v1h-1zM1207 107h2v1h-2zM1209 106h1v1h-1zM1210 105h3v1h-3zM1213 106h3v1h-3zM1216 105h2v1h-2zM1218 104h3v1h-3zM1221 105h1v1h-1zM1222 105h1v2h-1zM1223 107h1v2h-1zM1224 109h1v2h-1zM1225 111h1v2h-1zM1226 113h1v2h-1zM1227 115h1v1h-1zM1228 116h1v1h-1zM1229 117h1v1h-1zM1230 118h1v1h-1zM1231 117h2v1h-2zM1233 116h1v1h-1zM1234 115h1v1h-1zM1235 114h2v1h-2zM1237 113h1v1h-1zM1238 112h1v1h-1zM1239 110h1v2h-1zM1240 109h1v1h-1zM1241 107h1v2h-1zM1242 106h1v1h-1zM1243 104h1v2h-1zM1244 102h1v2h-1zM1245 100h1v2h-1zM1246 98h1v2h-1zM1247 96h1v2h-1zM1248 93h1v3h-1zM1249 91h1v2h-1zM1250 89h1v2h-1zM1251 88h1v1h-1zM1252 86h1v2h-1zM1253 85h1v1h-1zM1254 84h2v1h-2zM1256 83h2v1h-2zM1258 82h1v1h-1zM1259 83h1v1h-1zM1260 84h1v1h-1zM1261 85h1v1h-1zM1262 86h1v1h-1zM1263 87h1v2h-1zM1264 89h1v1h-1zM1265 90h1v2h-1zM1266 92h1v2h-1zM1267 94h1v2h-1zM1268 96h1v3h-1zM1269 99h1v2h-1zM1270 101h1v2h-1z"/>
<rect x="1600" y="106" width="41" height="11" fill="#000"/>
<text x="1603.99" y="115" font-size="10.18" fill="#fff" stroke="#fff" stroke-width="0.2" textLength="33.68" lengthAdjust="spacingAndGlyphs">1.17937</text>
<text x="20.83" y="38" font-size="10.18" fill="#000" textLength="211.94" lengthAdjust="spacingAndGlyphs">EURUSD,Daily  1.18011 1.18057 1.17901 1.17937</text>
<text x="9.43" y="546" font-size="10.18" fill="#000" stroke="#000" stroke-width="0.2" textLength="69.12" lengthAdjust="spacingAndGlyphs">RSI(14) 54.7849</text>
<text x="9.43" y="640" font-size="10.18" fill="#000" stroke="#000" stroke-width="0.2" textLength="148.98" lengthAdjust="spacingAndGlyphs">MACD(12,26,9) 0.005915 0.008203</text>
<rect x="5" y="36" width="1594" height="2" fill="#ff0000"/>
<rect x="5" y="34" width="6" height="6" fill="#ff0000"/>
<rect x="7" y="36" width="2" height="2" fill="#fff"/>
<rect x="1592" y="34" width="6" height="6" fill="#ff0000"/>
<rect x="1594" y="36" width="2" height="2" fill="#fff"/>
<rect x="1600" y="31" width="41" height="11" fill="#ff0000"/>
<text x="1603.99" y="40" font-size="10.18" fill="#fff" stroke="#fff" stroke-width="0.2" textLength="33.68" lengthAdjust="spacingAndGlyphs">1.20037</text>
<rect x="5" y="72" width="1594" height="2" fill="#ff0000"/>
<rect x="5" y="70" width="6" height="6" fill="#ff0000"/>
<rect x="7" y="72" width="2" height="2" fill="#fff"/>
<rect x="1592" y="70" width="6" height="6" fill="#ff0000"/>
<rect x="1594" y="72" width="2" height="2" fill="#fff"/>
<rect x="1600" y="67" width="41" height="11" fill="#ff0000"/>
<text x="1603.99" y="76" font-size="10.18" fill="#fff" stroke="#fff" stroke-width="0.2" textLength="33.68" lengthAdjust="spacingAndGlyphs">1.19017</text>
<rect x="5" y="107" width="1594" height="2" fill="#00ff00"/>
<rect x="5" y="105" width="6" height="6" fill="#00ff00"/>
<rect x="7" y="107" width="2" height="2" fill="#fff"/>
<rect x="1592" y="105" width="6" height="6" fill="#00ff00"/>
<rect x="1594" y="107" width="2" height="2" fill="#fff"/>
<rect x="1600" y="102" width="41" height="11" fill="#00ff00"/>
<text x="1603.99" y="111" font-size="10.18" fill="#fff" stroke="#fff" stroke-width="0.2" textLength="33.60" lengthAdjust="spacingAndGlyphs">1.18025</text>
<rect x="5" y="143" width="1594" height="2" fill="#0000ff"/>
<rect x="5" y="141" width="6" height="6" fill="#0000ff"/>
<rect x="7" y="143" width="2" height="2" fill="#fff"/>
<rect x="1592" y="141" width="6" height="6" fill="#0000ff"/>
<rect x="1594" y="143" width="2" height="2" fill="#fff"/>
<rect x="1600" y="138" width="41" height="11" fill="#0000ff"/>
<text x="1603.99" y="147" font-size="10.18" fill="#fff" stroke="#fff" stroke-width="0.2" textLength="33.60" lengthAdjust="spacingAndGlyphs">1.17005</text>
<rect x="5" y="178" width="1594" height="2" fill="#0000ff"/>
<rect x="5" y="176" width="6" height="6" fill="#0000ff"/>
<rect x="7" y="178" width="2" height="2" fill="#fff"/>
<rect x="1592" y="176" width="6" height="6" fill="#0000ff"/>
<rect x="1594" y="178" width="2" height="2" fill="#fff"/>
<rect x="1600" y="173" width="41" height="11" fill="#0000ff"/>
<text x="1603.99" y="182" font-size="10.18" fill="#fff" stroke="#fff" stroke-width="0.2" textLength="33.62" lengthAdjust="spacingAndGlyphs">1.16013</text>
<path d="M9 33 h7 l-3.5 4 z" fill="#000"/>
<path d="M1273 27 h11 l-5.5 5 z" fill="#c0c0c0"/>
<rect x="0" y="740" width="1643" height="1" fill="#e6e6e6"/>
<rect x="1" y="742" width="1643" height="1" fill="#000"/>
<rect x="0" y="743" width="1643" height="19" fill="#f0f0f0"/>
<rect x="0" y="762" width="1643" height="3" fill="#fcfcfc"/>
<rect x="0" y="765" width="1643" height="1" fill="#f0f0f0"/>
<rect x="0" y="766" width="1643" height="1" fill="#a0a0a0"/>
<rect x="0" y="767" width="1643" height="1" fill="#fff"/>
<rect x="0" y="741" width="1" height="27" fill="#fff"/>
<rect x="1" y="743" width="1" height="18" fill="#a8a8a8"/>
<rect x="2" y="743" width="1" height="18" fill="#6e6e6e"/>
<rect x="3" y="743" width="1" height="18" fill="#fff"/>
<rect x="0" y="761" width="3" height="1" fill="#909090"/>
<rect x="8" y="741" width="102" height="19" fill="#fff"/>
<rect x="7" y="742" width="1" height="19" fill="#000"/>
<rect x="110" y="742" width="1" height="19" fill="#000"/>
<rect x="7" y="760" width="104" height="1" fill="#000"/>
<rect x="111" y="744" width="1" height="18" fill="#c8c8c8"/>
<rect x="9" y="761" width="103" height="1" fill="#c8c8c8"/>
<text x="19.13" y="757" font-size="13.09" fill="#000" stroke="#000" stroke-width="0.2" textLength="79.90" lengthAdjust="spacingAndGlyphs">EURUSD,Daily</text>
<text x="121.19" y="757" font-size="13.09" fill="#787878" textLength="78.94" lengthAdjust="spacingAndGlyphs">USDCHF,Daily</text>
<text x="223.08" y="757" font-size="13.09" fill="#787878" textLength="81.35" lengthAdjust="spacingAndGlyphs">AUDUSD,Daily</text>
<text x="326.17" y="757" font-size="13.09" fill="#787878" textLength="81.05" lengthAdjust="spacingAndGlyphs">USDCAD,Daily</text>
<text x="428.95" y="757" font-size="13.09" fill="#787878" textLength="83.47" lengthAdjust="spacingAndGlyphs">USDCNH,Daily</text>
<text x="535.02" y="757" font-size="13.09" fill="#787878" textLength="80.51" lengthAdjust="spacingAndGlyphs">EURUSD,Daily</text>
<text x="639.41" y="757" font-size="13.09" fill="#787878" textLength="68.14" lengthAdjust="spacingAndGlyphs">GBPUSD,H4</text>
<text x="730.43" y="757" font-size="13.09" fill="#787878" textLength="68.96" lengthAdjust="spacingAndGlyphs">XAUUSD,H1</text>
<text x="822.29" y="757" font-size="13.09" fill="#787878" textLength="50.12" lengthAdjust="spacingAndGlyphs">HK50,H1</text>
<text x="893.83" y="757" font-size="13.09" fill="#787878" textLength="57.88" lengthAdjust="spacingAndGlyphs">UK100,H1</text>
<text x="973.83" y="757" font-size="13.09" fill="#787878" textLength="57.88" lengthAdjust="spacingAndGlyphs">UK100,H1</text>
<text x="1054.51" y="757" font-size="13.09" fill="#787878" textLength="56.87" lengthAdjust="spacingAndGlyphs">GER30,H1</text>
<text x="1133.33" y="757" font-size="13.09" fill="#787878" textLength="55.04" lengthAdjust="spacingAndGlyphs">FRA40,H1</text>
<text x="1208.74" y="757" font-size="13.09" fill="#787878" textLength="51.82" lengthAdjust="spacingAndGlyphs">USOil,H4</text>
<text x="1281.12" y="757" font-size="13.09" fill="#787878" textLength="62.74" lengthAdjust="spacingAndGlyphs">USDJPY,H1</text>
<text x="1365.09" y="757" font-size="13.09" fill="#787878" textLength="59.33" lengthAdjust="spacingAndGlyphs">DJ30,Daily</text>
<text x="1445.46" y="757" font-size="13.09" fill="#787878" textLength="79.25" lengthAdjust="spacingAndGlyphs">CHINA300,H1</text>
<text x="1545.36" y="757" font-size="13.09" fill="#787878" textLength="50.84" lengthAdjust="spacingAndGlyphs">USOil,H1</text>
<rect x="211" y="745" width="1" height="14" fill="#808080"/>
<rect x="315" y="745" width="1" height="14" fill="#808080"/>
<rect x="419" y="745" width="1" height="14" fill="#808080"/>
<rect x="523" y="745" width="1" height="14" fill="#808080"/>
<rect x="627" y="745" width="1" height="14" fill="#808080"/>
<rect x="719" y="745" width="1" height="14" fill="#808080"/>
<rect x="811" y="745" width="1" height="14" fill="#808080"/>
<rect x="883" y="745" width="1" height="14" fill="#808080"/>
<rect x="963" y="745" width="1" height="14" fill="#808080"/>
<rect x="1043" y="745" width="1" height="14" fill="#808080"/>
<rect x="1123" y="745" width="1" height="14" fill="#808080"/>
<rect x="1199" y="745" width="1" height="14" fill="#808080"/>
<rect x="1271" y="745" width="1" height="14" fill="#808080"/>
<rect x="1355" y="745" width="1" height="14" fill="#808080"/>
<rect x="1435" y="745" width="1" height="14" fill="#808080"/>
<rect x="1535" y="745" width="1" height="14" fill="#808080"/>
<rect x="1607" y="745" width="1" height="14" fill="#808080"/>
<path d="M1617 748 v7 l-3.5 -3.5 z" fill="#a0a0a0"/>
<path d="M1633 748 v7 l3.5 -3.5 z" fill="#000"/>
</svg>
</body>
</html>
